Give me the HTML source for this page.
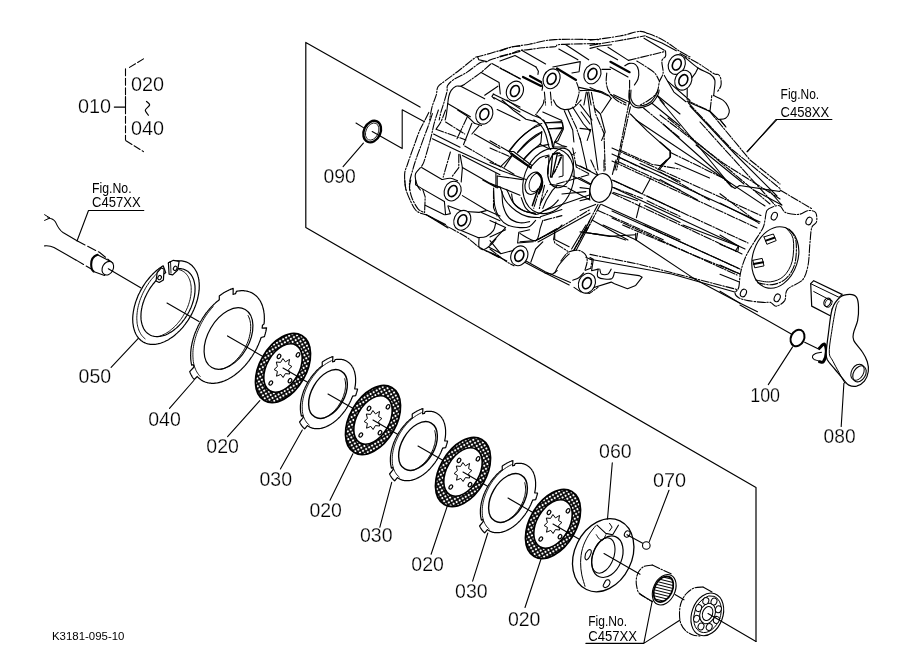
<!DOCTYPE html><html><head><meta charset="utf-8"><style>
html,body{margin:0;padding:0;background:#fff;width:919px;height:667px;overflow:hidden}
svg{display:block;will-change:transform}
text{font-family:"Liberation Sans",sans-serif;fill:#000;stroke:none}
text.n{stroke:#fff;stroke-width:0.25px}
</style></head><body>
<svg width="919" height="667" viewBox="0 0 919 667"><defs>
<pattern id="dots" width="3.5" height="3.5" patternUnits="userSpaceOnUse" patternTransform="rotate(30)">
<rect width="3.5" height="3.5" fill="#000"/><rect x="0.75" y="0.75" width="2" height="2" fill="#fff"/></pattern>
</defs><g fill="none" stroke="#000" stroke-width="1.1" stroke-linejoin="round" stroke-linecap="round"><path d="M420,107.1 L305.8,42.4 L305.8,227.5 L756,487.5 L756,641.4" stroke-width="1.2"/>
<path d="M475.4,57.5 L510.8,47.0 L555.0,39.6 L610.0,37.0 L636.4,32.4 L646.3,32.4 L651.2,34.8 L676.0,50.5 L715.5,74.4 L719.6,79.3 L718.8,89.2 L714.7,94.2 L723.7,100.8 L728.7,109.0 L727.8,117.2 L723.7,122.2 L768.8,204.4 L809.3,208.8 L816.0,220.0 L813.8,289.8 L800.3,307.8 L768.8,307.8 L735.0,301.0 L696.9,294.3 L640.0,287.0 L616.3,282.3 L596.7,286.2 L588.8,294.0 L577.0,292.0 L569.3,284.2 L532.0,265.6 L512.5,264.6 L493.5,244.7 L479.9,238.8 L468.2,233.0 L448.7,223.3 L431.2,217.4 L423.4,213.5 L413.6,203.8 L407.8,190.1 L404.9,176.5 L405.8,164.8 L411.7,151.2 L421.4,120.0 L429.2,114.2 L436.0,98.5 L437.1,91.7 L440.5,83.8 L454.0,73.7 L475.4,57.5" fill="#fff" stroke="none"/>
<path d="M520.0,46.2 C518.5,46.4 516.0,46.0 511.1,47.2 C506.3,48.4 496.3,51.6 490.7,53.2 C485.1,54.8 480.3,56.0 477.6,56.8 C474.9,57.6 477.6,55.8 474.6,58.0 C471.6,60.2 464.5,66.2 459.6,70.0 C454.7,73.8 448.8,78.0 445.2,80.8 C441.6,83.6 439.5,84.4 438.0,86.8 C436.5,89.2 437.2,91.8 436.2,95.2 C435.2,98.6 433.1,103.0 432.0,107.1 C430.9,111.3 430.0,117.8 429.6,120.0" stroke-dasharray="8,1.6,1.5,1.6"/>
<path d="M520.0,51.4 C515.3,52.7 497.4,57.5 491.9,59.2 C486.5,60.9 489.1,61.0 487.1,61.6 C485.1,62.2 483.3,61.0 480.0,62.8 C476.6,64.6 471.2,69.6 466.8,72.4 C462.4,75.2 456.8,77.4 453.6,79.6 C450.4,81.8 448.7,83.6 447.6,85.6 C446.5,87.6 447.6,88.8 447.0,91.6 C446.4,94.4 445.0,99.0 444.0,102.4 C443.0,105.7 441.8,109.0 441.0,111.9 C440.2,114.9 439.5,118.6 439.2,120.0" stroke-dasharray="8,1.6,1.5,1.6"/>
<path d="M477.6,56.8 L478.8,59.8 L487.1,61.6" />
<path d="M490.7,64.0 C489.1,65.4 484.1,70.0 481.2,72.4 C478.2,74.8 475.6,76.4 472.8,78.4 C470.0,80.4 465.8,83.4 464.4,84.4" stroke-dasharray="8,1.6,1.5,1.6"/>
<path d="M464.4,84.6 C463.8,84.9 462.2,85.9 460.8,86.2 C459.4,86.4 457.6,85.5 456.0,86.2 C454.4,86.9 452.4,88.7 451.2,90.4 C450.0,92.1 449.4,94.0 448.8,96.4 C448.2,98.8 448.0,101.8 447.6,104.7 C447.2,107.7 446.8,111.8 446.4,114.3 C446.0,116.9 445.4,119.0 445.2,120.0" />
<path d="M460.8,86.2 L484.7,98.8" />
<path d="M481.2,72.4 L499.1,82.6 L500.3,94.0" />
<path d="M491.9,63.4 L520.0,78.4" stroke-dasharray="8,1.6,1.5,1.6"/>
<path d="M447.6,103.5 L470.4,116.7" />
<path d="M484.7,95.2 L497.9,86.2" />
<path d="M493.1,94.0 L520.0,107.1" />
<path d="M493.7,97.6 L520.0,111.9" />
<path d="M493.7,94.0 L491.9,96.4 L494.3,98.8" />
<path d="M500.0,51.1 C502.0,50.4 507.1,48.0 512.0,46.8 C516.9,45.7 522.3,45.4 529.4,44.2 C536.5,43.0 542.8,40.4 554.6,39.6 C566.3,38.9 592.4,39.6 600.0,39.6" stroke-dasharray="8,1.6,1.5,1.6"/>
<path d="M500.0,56.4 C502.2,55.8 510.2,53.8 513.2,52.8 C516.2,51.9 515.4,51.3 518.0,50.8 C520.6,50.2 524.8,50.1 528.8,49.6 C532.8,49.1 537.6,48.3 542.0,47.8 C546.4,47.3 552.0,47.1 555.2,46.6 C558.4,46.0 553.7,44.9 561.2,44.4 C568.6,43.9 593.5,43.7 600.0,43.6" stroke-dasharray="8,1.6,1.5,1.6"/>
<path d="M500.0,61.0 L515.0,55.6 L536.0,67.0" />
<path d="M521.6,50.2 L545.6,64.0" />
<path d="M558.8,49.0 L577.9,59.8" />
<path d="M565.9,44.8 L588.7,59.8" />
<path d="M536.0,67.0 L538.4,71.2 L537.8,75.4" stroke-dasharray="8,1.6,1.5,1.6"/>
<path d="M552.8,67.0 L580.3,61.6 L579.1,71.8 L571.9,73.0" />
<path d="M500.0,68.2 L520.4,79.0" />
<path d="M540.8,81.4 C541.1,82.2 542.4,84.7 542.6,86.2 C542.8,87.6 542.1,89.6 542.0,90.3" />
<path d="M544.4,92.1 L545.6,105.0" stroke-dasharray="8,1.6,1.5,1.6"/>
<path d="M550.4,92.1 L551.6,105.0" stroke-dasharray="8,1.6,1.5,1.6"/>
<path d="M576.7,82.6 C577.1,84.2 579.3,88.4 579.1,92.1 C578.9,95.9 576.1,102.8 575.5,105.0" stroke-dasharray="8,1.6,1.5,1.6"/>
<path d="M586.3,92.1 L583.9,105.0" />
<path d="M588.7,92.1 L591.1,105.0" />
<path d="M579.1,87.4 L600.0,92.1" />
<path d="M590.0,40.3 C595.0,39.6 612.4,37.4 620.0,36.0 C627.6,34.6 631.8,32.7 635.6,32.0 C639.4,31.2 640.9,31.4 642.8,31.6 C644.7,31.8 646.3,32.9 647.0,33.2" stroke-dasharray="8,1.6,1.5,1.6"/>
<path d="M647.0,33.2 C648.7,33.8 653.6,35.4 657.1,37.0 C660.6,38.6 664.1,40.6 667.9,43.0 C671.7,45.4 676.3,49.1 679.9,51.4 C683.6,53.7 688.3,55.9 690.0,56.8" stroke-dasharray="8,1.6,1.5,1.6"/>
<path d="M590.0,45.4 C592.4,45.0 598.4,44.0 604.4,43.0 C610.4,42.0 619.2,40.6 626.0,39.4 C632.8,38.2 642.0,36.4 645.2,35.8" stroke-dasharray="8,1.6,1.5,1.6"/>
<path d="M646.4,36.4 L661.9,43.0 L676.3,50.8" />
<path d="M590.0,48.4 L599.6,46.0 L611.6,44.8" />
<path d="M597.2,48.4 L617.6,59.8" />
<path d="M608.0,47.2 L628.4,60.4" />
<path d="M644.0,38.2 L664.3,50.2" />
<path d="M628.4,60.4 L665.5,51.4" stroke-dasharray="8,1.6,1.5,1.6"/>
<path d="M665.5,50.8 C665.5,51.7 666.1,54.5 665.5,56.2 C664.9,57.9 662.3,58.2 661.9,61.0 C661.5,63.8 663.5,69.6 663.1,73.0 C662.7,76.4 660.5,78.2 659.5,81.4 C658.5,84.6 658.7,89.1 657.1,92.1 C655.5,95.1 652.7,97.2 650.0,99.3 C647.2,101.5 642.0,104.0 640.4,105.0" stroke-dasharray="8,1.6,1.5,1.6"/>
<path d="M636.8,61.0 C638.4,62.0 643.4,65.0 646.4,67.0 C649.4,69.0 652.5,70.6 654.7,73.0 C656.9,75.4 658.7,80.0 659.5,81.4" stroke-dasharray="8,1.6,1.5,1.6"/>
<path d="M606.8,73.0 C606.7,74.4 606.0,78.6 606.2,81.4 C606.4,84.2 606.9,87.2 608.0,89.7 C609.1,92.3 611.0,94.9 612.8,96.9 C614.6,98.9 616.6,100.4 618.8,101.7 C621.0,103.1 624.8,104.4 626.0,105.0" stroke-dasharray="8,1.6,1.5,1.6"/>
<path d="M624.8,65.8 C625.6,65.4 627.8,63.6 629.6,63.4 C631.4,63.2 634.1,63.4 635.6,64.6 C637.1,65.8 638.2,68.2 638.6,70.6 C639.0,73.0 638.7,76.6 638.0,79.0 C637.3,81.4 635.0,84.0 634.4,85.0" />
<path d="M629.6,80.2 L629.6,105.0" stroke-dasharray="8,1.6,1.5,1.6"/>
<path d="M602.0,69.4 L610.4,69.4" />
<path d="M590.0,87.4 L608.0,95.7" />
<path d="M610.4,94.5 L626.0,102.9" />
<path d="M657.1,95.7 L664.3,104.1" />
<path d="M667.9,81.4 L690.0,100.5" />
<path d="M664.3,75.4 L673.9,92.1 L685.9,101.7" />
<path d="M680.0,53.6 C683.0,55.2 692.4,59.9 698.0,63.2 C703.6,66.5 710.2,71.5 713.6,73.4 C717.0,75.3 717.2,73.7 718.4,74.6 C719.6,75.5 720.4,76.9 720.8,78.8 C721.2,80.7 721.4,83.8 720.8,86.0 C720.2,88.2 717.8,91.0 717.2,92.0" stroke-dasharray="8,1.6,1.5,1.6"/>
<path d="M713.6,95.6 C715.2,96.4 720.8,98.6 723.2,100.4 C725.6,102.2 727.0,104.4 728.0,106.4 C729.0,108.4 729.6,110.4 729.2,112.4 C728.8,114.3 727.4,117.1 725.6,118.3 C723.8,119.5 719.6,119.3 718.4,119.5" />
<path d="M684.8,57.2 C687.0,59.0 693.8,65.2 698.0,68.0 C702.2,70.8 707.2,72.0 710.0,74.0 C712.8,76.0 714.1,77.2 714.8,80.0 C715.5,82.8 714.4,88.2 714.2,90.8 C714.0,93.4 713.7,94.8 713.6,95.6" />
<path d="M698.0,68.0 L695.6,72.8 L692.0,77.6" />
<path d="M687.2,88.4 L687.2,100.4 L710.0,111.2 L711.8,95.6" stroke-dasharray="8,1.6,1.5,1.6"/>
<path d="M710.0,111.2 L718.4,119.5" />
<path d="M719.6,119.5 L725.6,126.7" />
<path d="M428.8,112.4 C428.0,114.0 425.6,118.8 424.0,122.0 C422.4,125.2 420.8,127.8 419.2,131.6 C417.6,135.4 416.0,140.4 414.4,144.8 C412.8,149.2 410.8,154.6 409.6,158.0 C408.4,161.4 408.0,162.8 407.2,165.2 C406.4,167.6 405.2,169.6 404.8,172.4 C404.4,175.1 404.6,179.0 404.8,181.9 C405.0,184.9 405.8,188.6 406.0,190.0" stroke-dasharray="8,1.6,1.5,1.6"/>
<path d="M432.4,113.6 C431.8,115.4 430.0,121.0 428.8,124.4 C427.6,127.8 426.6,130.2 425.2,134.0 C423.8,137.8 422.0,142.8 420.4,147.2 C418.8,151.6 417.0,156.2 415.6,160.4 C414.2,164.6 413.0,168.8 412.0,172.4 C411.0,175.9 410.0,179.0 409.6,181.9 C409.2,184.9 409.6,188.6 409.6,190.0" stroke-dasharray="8,1.6,1.5,1.6"/>
<path d="M438.4,110.0 C438.0,111.2 436.8,114.6 436.0,117.2 C435.2,119.8 434.4,122.4 433.6,125.6 C432.8,128.8 432.2,132.4 431.2,136.4 C430.2,140.4 428.8,145.4 427.6,149.6 C426.4,153.8 425.0,158.8 424.0,161.6 C423.0,164.4 422.0,165.6 421.6,166.4" stroke-dasharray="8,1.6,1.5,1.6"/>
<path d="M445.6,110.0 C444.8,112.0 442.4,118.8 440.8,122.0 C439.2,125.2 436.8,128.0 436.0,129.2" stroke-dasharray="8,1.6,1.5,1.6"/>
<path d="M433.6,134.0 L460.0,147.2" />
<path d="M432.4,138.8 L457.6,150.8 L500.0,170.0" />
<path d="M436.0,129.2 L465.9,140.0" stroke-dasharray="8,1.6,1.5,1.6"/>
<path d="M445.6,122.0 L464.7,134.0" stroke-dasharray="8,1.6,1.5,1.6"/>
<path d="M474.3,134.0 L500.0,148.4" />
<path d="M464.7,146.0 L500.0,166.4" stroke-dasharray="8,1.6,1.5,1.6"/>
<path d="M462.4,155.6 L500.0,174.7" />
<path d="M462.4,167.6 L495.9,186.7" />
<path d="M421.6,167.6 L442.0,179.5" />
<path d="M442.0,179.5 C443.4,179.3 447.8,178.1 450.4,178.3 C453.0,178.5 456.4,180.3 457.6,180.7" />
<path d="M450.4,152.0 L443.2,177.1" stroke-dasharray="8,1.6,1.5,1.6"/>
<path d="M458.8,154.4 L458.8,167.6 L451.6,177.1" stroke-dasharray="8,1.6,1.5,1.6"/>
<path d="M460.0,154.4 L462.4,167.6 L461.2,181.9" />
<path d="M467.1,117.2 L456.4,140.0" stroke-dasharray="8,1.6,1.5,1.6"/>
<path d="M471.9,123.2 L463.5,144.8" />
<path d="M420.4,167.6 C419.6,168.6 416.4,171.6 415.6,173.5 C414.8,175.5 415.2,177.3 415.6,179.5 C416.0,181.7 417.2,185.0 418.0,186.7 C418.8,188.5 420.0,189.4 420.4,190.0" />
<path d="M457.6,110.0 L467.1,116.0 L474.3,123.2" />
<path d="M474.3,123.2 L481.5,125.6" />
<path d="M479.1,125.6 L471.9,134.0" />
<path d="M495.9,173.5 L495.9,186.7" />
<path d="M502.0,100.0 L514.0,110.8 L526.0,119.2 L535.6,121.6" />
<path d="M506.8,100.0 L521.2,109.6 L533.2,115.6 L540.4,118.0" />
<path d="M497.2,109.6 L520.0,120.4" />
<path d="M509.2,151.6 C511.0,149.4 516.2,142.2 520.0,138.4 C523.8,134.6 528.6,131.0 532.0,128.8 C535.4,126.6 539.0,125.8 540.4,125.2" />
<path d="M517.6,152.8 C519.4,151.0 524.4,145.4 528.4,142.0 C532.4,138.6 539.4,134.0 541.6,132.4" />
<path d="M523.6,160.0 C525.6,158.0 531.4,150.6 535.6,148.0 C539.8,145.4 546.6,145.0 548.8,144.4" />
<path d="M535.6,114.4 C537.0,115.6 541.8,118.8 544.0,121.6 C546.2,124.4 547.4,127.8 548.8,131.2 C550.2,134.6 551.6,139.2 552.4,142.0 C553.1,144.8 553.3,147.0 553.5,148.0" />
<path d="M544.0,100.0 C543.8,100.8 544.0,102.6 542.8,104.8 C541.6,107.0 537.8,111.8 536.8,113.2" />
<path d="M553.5,100.0 C554.1,101.0 555.3,104.4 557.1,106.0 C558.9,107.6 561.5,109.4 564.3,109.6 C567.1,109.8 571.1,108.8 573.9,107.2 C576.7,105.6 579.9,101.2 581.1,100.0" />
<path d="M564.3,110.8 L572.7,130.0 L573.9,142.0" />
<path d="M567.9,109.6 L576.3,127.6 L581.1,142.0" stroke-dasharray="8,1.6,1.5,1.6"/>
<path d="M572.7,107.2 L583.5,124.0 L590.0,131.2" />
<path d="M581.1,112.0 L590.0,124.0" />
<path d="M546.4,122.8 L561.9,121.6 L563.1,127.6 L554.7,142.0" />
<path d="M550.0,128.8 L561.9,127.6" />
<path d="M542.8,112.0 L561.9,120.4" />
<path d="M554.7,142.0 L561.9,145.6 L566.7,146.8" />
<path d="M552.4,154.0 L559.5,152.8 L561.9,156.4 L554.7,171.9" stroke-dasharray="8,1.6,1.5,1.6"/>
<path d="M511.6,155.2 L530.8,168.3" />
<path d="M511.6,156.4 L504.4,167.1" />
<path d="M490.0,140.8 L509.2,151.6" stroke-dasharray="8,1.6,1.5,1.6"/>
<path d="M490.0,148.0 L509.2,156.4" stroke-dasharray="8,1.6,1.5,1.6"/>
<path d="M490.0,162.4 L502.0,167.1 L514.0,174.3" />
<path d="M572.7,148.0 L576.3,167.1 L590.0,174.3" stroke-dasharray="8,1.6,1.5,1.6"/>
<path d="M576.3,164.7 L590.0,170.7" />
<path d="M509.2,151.6 L511.6,155.2" />
<path d="M629.2,90.0 C629.2,91.6 628.4,96.8 629.2,99.6 C630.0,102.4 631.8,105.5 634.0,106.8 C636.2,108.1 639.4,108.0 642.4,107.4 C645.3,106.8 649.3,105.3 651.9,103.2 C654.5,101.1 656.7,97.0 657.9,94.8 C659.1,92.6 658.9,90.8 659.1,90.0" />
<path d="M631.0,90.0 C631.0,91.5 630.3,96.5 631.0,99.0 C631.7,101.5 633.3,103.9 635.2,105.0 C637.1,106.1 639.8,106.1 642.4,105.6 C644.9,105.1 648.3,104.0 650.7,102.0 C653.1,100.0 655.6,95.6 656.7,93.6 C657.9,91.6 657.5,90.6 657.7,90.0" />
<path d="M580.0,90.6 C583.0,90.6 593.4,89.9 598.0,90.6 C602.6,91.3 605.4,93.5 607.6,94.8 C609.8,96.1 610.6,97.8 611.2,98.4" />
<path d="M613.6,94.8 L629.2,102.0" />
<path d="M611.2,98.4 L601.6,112.8" />
<path d="M629.2,102.0 L619.6,150.0 L614.8,170.0" stroke-dasharray="8,1.6,1.5,1.6"/>
<path d="M630.4,106.8 L620.8,150.0 L616.6,170.0" stroke-dasharray="8,1.6,1.5,1.6"/>
<path d="M630.4,114.0 L647.1,130.8 L669.9,151.2 L669.9,157.1 L659.1,170.0" />
<path d="M643.5,108.0 L680.0,138.0" stroke-dasharray="8,1.6,1.5,1.6"/>
<path d="M651.9,103.2 L680.0,126.0" />
<path d="M657.9,96.0 L680.0,114.0" />
<path d="M619.6,150.0 L651.9,164.3 L680.0,169.1" stroke-dasharray="8,1.6,1.5,1.6"/>
<path d="M618.4,157.1 L645.9,170.0" stroke-dasharray="8,1.6,1.5,1.6"/>
<path d="M587.2,92.4 L598.0,170.0" />
<path d="M591.4,92.4 L595.6,114.0 L604.0,133.2 L605.2,170.0" stroke-dasharray="8,1.6,1.5,1.6"/>
<path d="M594.4,108.0 L600.4,114.0 L605.2,132.0 L601.6,140.4" />
<path d="M580.0,128.4 L590.8,129.6 L587.2,140.4" />
<path d="M580.0,138.0 L587.2,170.0" />
<path d="M580.0,104.4 L592.0,120.0" />
<path d="M404.8,180.0 C405.0,181.6 405.0,186.0 406.0,189.6 C407.0,193.2 409.2,198.2 410.8,201.6 C412.4,205.0 413.8,208.0 415.6,210.0 C417.4,212.0 419.8,212.8 421.6,213.6 C423.4,214.4 425.6,214.6 426.4,214.8" stroke-dasharray="8,1.6,1.5,1.6"/>
<path d="M426.4,214.8 C430.0,216.8 441.2,223.0 448.0,226.8 C454.8,230.6 462.0,234.2 467.1,237.6 C472.3,241.0 473.7,243.7 479.1,247.1 C484.6,250.5 496.5,256.1 500.0,257.9" stroke-dasharray="8,1.6,1.5,1.6"/>
<path d="M410.8,180.0 C410.6,181.2 409.4,184.2 409.6,187.2 C409.8,190.2 410.6,194.4 412.0,198.0 C413.4,201.6 416.0,206.4 418.0,208.8 C420.0,211.2 423.0,211.8 424.0,212.4" stroke-dasharray="8,1.6,1.5,1.6"/>
<path d="M415.6,180.0 L415.6,184.8 L421.6,188.4 L444.4,201.6" />
<path d="M422.8,189.6 L425.2,196.8 L424.6,212.4" stroke-dasharray="8,1.6,1.5,1.6"/>
<path d="M425.2,205.2 L444.4,214.8" />
<path d="M444.4,201.6 L445.6,214.8 L450.4,213.6 L448.0,206.4" />
<path d="M426.4,214.8 L448.0,228.0" />
<path d="M428.8,216.0 L445.6,224.4" />
<path d="M462.4,195.6 L486.3,210.0 L500.0,216.0" />
<path d="M448.0,205.8 L462.4,211.2 L479.1,212.4 L486.3,210.6" />
<path d="M481.5,212.4 L500.0,220.8" />
<path d="M461.2,230.4 L477.9,237.6" />
<path d="M495.9,222.0 C495.5,223.4 495.1,228.0 493.5,230.4 C491.9,232.8 488.9,235.2 486.3,236.4 C483.7,237.6 479.3,237.4 477.9,237.6" />
<path d="M479.1,237.6 C479.1,239.2 478.3,245.1 479.1,247.1 C479.9,249.1 481.9,249.9 483.9,249.5 C485.9,249.1 489.1,246.5 491.1,244.7 C493.1,242.9 495.1,239.8 495.9,238.8" />
<path d="M493.5,190.8 L493.5,207.6 L497.1,216.0" stroke-dasharray="8,1.6,1.5,1.6"/>
<path d="M482.7,180.0 L495.9,187.2 L500.0,187.2" />
<path d="M488.7,247.1 L500.0,253.1" />
<path d="M486.3,250.7 L500.0,256.7" />
<path d="M493.6,188.0 C493.8,191.0 493.8,201.0 494.8,206.0 C495.8,211.0 497.4,214.8 499.6,218.0 C501.8,221.2 504.6,223.6 508.0,225.2 C511.4,226.8 516.4,227.4 520.0,227.6 C523.6,227.8 527.0,227.6 529.6,226.4 C532.2,225.2 534.6,221.4 535.6,220.4" />
<path d="M502.0,191.6 C502.2,194.0 502.0,201.6 503.2,206.0 C504.4,210.4 506.4,215.2 509.2,218.0 C512.0,220.8 516.6,222.2 520.0,222.8 C523.4,223.4 528.0,221.8 529.6,221.6" />
<path d="M511.6,194.0 C512.0,195.6 512.0,200.8 514.0,203.6 C516.0,206.4 520.0,209.2 523.6,210.8 C527.2,212.4 533.6,212.8 535.6,213.2" />
<path d="M521.2,197.6 C522.0,199.4 523.6,205.6 526.0,208.4 C528.4,211.2 532.6,214.0 535.6,214.4 C538.6,214.8 541.2,212.2 544.0,210.8 C546.8,209.4 550.0,207.8 552.4,206.0 C554.7,204.2 557.3,201.0 558.3,200.0" />
<path d="M542.8,208.4 L546.4,200.0 L552.4,190.4 L557.1,185.6" />
<path d="M540.4,203.6 L547.6,190.4" stroke-dasharray="8,1.6,1.5,1.6"/>
<path d="M540.4,216.8 L561.9,209.6" />
<path d="M544.0,220.4 L561.9,215.6" stroke-dasharray="8,1.6,1.5,1.6"/>
<path d="M490.0,183.2 L520.0,195.2" />
<path d="M497.2,176.0 L497.2,188.0" />
<path d="M497.2,176.0 L522.4,179.6" />
<path d="M499.6,170.0 L526.0,179.6" />
<path d="M520.0,233.5 C522.6,234.7 532.2,241.7 535.6,240.7 C539.0,239.7 539.2,231.0 540.4,227.6 C541.6,224.2 542.4,221.6 542.8,220.4" />
<path d="M535.6,240.7 L561.9,226.4 L590.0,209.6" stroke-dasharray="8,1.6,1.5,1.6"/>
<path d="M538.0,241.9 L564.3,227.6 L590.0,213.2" />
<path d="M554.7,230.0 L554.7,239.5 L569.1,246.7" />
<path d="M573.9,250.0 L590.0,220.4" stroke-dasharray="8,1.6,1.5,1.6"/>
<path d="M576.3,250.0 L590.0,224.0" />
<path d="M567.9,188.0 L590.0,200.0" />
<path d="M561.9,194.0 L585.9,191.6" />
<path d="M490.0,220.4 L505.6,227.6 L490.0,244.3" />
<path d="M572.7,176.0 L590.0,184.4" />
<path d="M550.0,184.4 L566.7,186.8" />
<path d="M618.4,161.8 L680.0,190.0" stroke-dasharray="8,1.6,1.5,1.6"/>
<path d="M640.0,163.6 L680.0,181.6" />
<path d="M613.6,180.4 L640.0,192.4" />
<path d="M613.6,187.6 L642.4,198.4" stroke-dasharray="8,1.6,1.5,1.6"/>
<path d="M613.6,192.4 L637.6,200.8" />
<path d="M647.1,196.0 L680.0,211.6" />
<path d="M647.1,200.8 L680.0,216.4" stroke-dasharray="8,1.6,1.5,1.6"/>
<path d="M644.7,205.6 L680.0,222.4" />
<path d="M601.6,204.4 L680.0,240.0" />
<path d="M598.0,210.4 L663.9,240.0" stroke-dasharray="8,1.6,1.5,1.6"/>
<path d="M592.0,220.0 L628.0,240.0" />
<path d="M657.9,169.6 L666.3,160.0" />
<path d="M650.7,178.0 L642.4,193.6" />
<path d="M640.0,203.2 L636.4,217.6" />
<path d="M637.6,233.1 L636.4,240.0" />
<path d="M580.0,166.0 L598.0,175.6" />
<path d="M580.0,178.0 L590.8,184.0 L598.0,175.6" />
<path d="M580.0,187.6 L589.6,188.8 L589.6,198.4 L580.0,200.8" />
<path d="M580.0,210.4 L595.6,204.4" />
<path d="M598.0,204.4 L583.6,231.9" stroke-dasharray="8,1.6,1.5,1.6"/>
<path d="M600.4,204.4 L586.0,231.9" stroke-dasharray="8,1.6,1.5,1.6"/>
<path d="M580.0,231.9 L616.0,236.7 L625.6,240.0" />
<path d="M590.8,160.0 L598.0,175.6" stroke-dasharray="8,1.6,1.5,1.6"/>
<path d="M604.0,160.0 L604.0,172.0" stroke-dasharray="8,1.6,1.5,1.6"/>
<path d="M616.0,160.0 L612.4,174.4" />
<path d="M687.0,101.5 L709.5,111.2" />
<path d="M688.5,103.0 L732.0,149.5 L780.0,188.5" stroke-dasharray="8,1.6,1.5,1.6"/>
<path d="M690.0,106.0 L735.0,154.0 L777.0,196.0" />
<path d="M709.5,111.2 L750.0,160.0 L780.0,184.0" stroke-dasharray="8,1.6,1.5,1.6"/>
<path d="M660.0,100.0 L697.5,145.0 L730.5,185.5 L735.0,188.5 L739.5,185.5 L780.0,191.5" />
<path d="M660.0,115.0 L723.0,163.0 L780.0,199.0" stroke-dasharray="8,1.6,1.5,1.6"/>
<path d="M663.0,124.0 L730.5,184.0" />
<path d="M660.0,142.0 L670.5,151.0 L670.5,157.0 L660.0,166.0" />
<path d="M670.5,152.5 L723.0,178.0 L732.0,187.0" stroke-dasharray="8,1.6,1.5,1.6"/>
<path d="M675.0,163.0 L709.5,178.0" />
<path d="M660.0,172.0 L709.5,200.0" stroke-dasharray="8,1.6,1.5,1.6"/>
<path d="M660.0,179.5 L697.5,200.0" />
<path d="M747.0,151.7 L777.0,119.5 L780.0,119.5" />
<path d="M696.0,145.0 L744.0,184.0" />
<path d="M720.0,119.5 L726.0,127.0" stroke-dasharray="8,1.6,1.5,1.6"/>
<path d="M720.0,193.7 L759.4,223.7" stroke-dasharray="8,1.6,1.5,1.6"/>
<path d="M720.0,203.1 L757.5,221.9" />
<path d="M720.0,235.0 L738.7,246.2 L737.8,251.8 L720.0,244.3" />
<path d="M720.0,265.0 L740.6,274.3" />
<path d="M720.0,274.3 L738.7,281.8" />
<path d="M720.0,291.2 L738.7,302.4 L757.5,311.8" />
<path d="M753.7,190.0 L781.8,205.0" />
<path d="M768.7,190.0 L781.8,205.0" />
<path d="M780.0,190.0 L811.8,208.7" stroke-dasharray="8,1.6,1.5,1.6"/>
<path d="M490.0,249.0 C492.6,251.0 501.6,258.2 505.6,261.0 C509.6,263.8 512.6,265.0 514.0,265.8" stroke-dasharray="8,1.6,1.5,1.6"/>
<path d="M524.8,262.2 L545.2,273.0 L569.2,285.0" />
<path d="M526.0,261.0 L545.2,271.8 L570.4,282.6" />
<path d="M545.2,273.0 L552.4,274.2 L557.2,270.6" />
<path d="M490.0,240.6 L500.8,253.8 L514.0,250.2" />
<path d="M490.0,252.6 L506.8,261.0" />
<path d="M560.8,261.0 C562.0,259.6 565.2,254.4 568.0,252.6 C570.8,250.8 574.8,250.0 577.6,250.2 C580.4,250.4 583.2,252.0 584.8,253.8 C586.4,255.6 587.2,258.2 587.2,261.0 C587.2,263.8 585.2,269.0 584.8,270.6" stroke-dasharray="8,1.6,1.5,1.6"/>
<path d="M554.8,273.0 C555.4,271.8 557.0,268.0 558.4,265.8 C559.8,263.6 561.4,261.8 563.2,259.8 C565.0,257.8 568.2,254.8 569.2,253.8" />
<path d="M586.0,257.4 L592.0,259.8 L590.8,268.2 L584.8,270.6" stroke-dasharray="8,1.6,1.5,1.6"/>
<path d="M572.8,280.2 C573.8,279.8 577.0,279.0 578.8,277.8 C580.6,276.6 582.8,273.8 583.6,273.0" />
<path d="M535.6,240.6 L557.2,229.8 L562.0,225.0" />
<path d="M538.0,239.4 L557.2,228.6" />
<path d="M554.8,232.2 L553.6,239.4 L554.8,243.0 L568.0,251.4" stroke-dasharray="8,1.6,1.5,1.6"/>
<path d="M533.2,241.8 L517.6,243.0 L518.8,232.2 L529.6,229.8" />
<path d="M490.0,237.0 L505.6,229.8" />
<path d="M571.6,249.0 L586.0,225.0" />
<path d="M574.0,250.2 L587.2,227.4" />
<path d="M583.6,232.2 L600.0,234.6" />
<path d="M530.8,262.2 L535.6,249.0 L542.8,241.8" />
<path d="M520.0,241.8 L535.6,240.6" />
<path d="M574.0,287.4 L581.2,292.2 L589.6,293.4 L598.0,287.4" stroke-dasharray="8,1.6,1.5,1.6"/>
<path d="M603.1,225.0 L635.7,239.7 L694.5,278.9 L740.0,303.3" />
<path d="M622.6,225.0 L687.9,252.7 L740.0,274.0" stroke-dasharray="8,1.6,1.5,1.6"/>
<path d="M643.9,225.0 L740.0,269.1" stroke-dasharray="8,1.6,1.5,1.6"/>
<path d="M683.0,225.0 L738.5,246.2 L735.3,251.1" />
<path d="M590.0,254.4 L639.0,264.2 L740.0,290.3" stroke-dasharray="8,1.6,1.5,1.6"/>
<path d="M590.0,259.3 L671.6,274.0 L740.0,293.5" />
<path d="M590.0,233.2 L609.6,236.4 L635.7,234.8" />
<path d="M635.7,233.2 L635.7,239.7" />
<path d="M598.2,269.1 C598.2,270.4 596.0,275.6 598.2,277.2 C600.3,278.9 608.5,279.7 611.2,278.9 C613.9,278.0 613.9,273.4 614.5,272.3" />
<path d="M614.5,272.3 L639.0,275.6 L642.2,277.2 L635.7,285.4 L627.5,288.7 L614.5,283.8 L611.2,282.1 L590.0,288.7" />
<path d="M590.0,257.6 L593.3,259.3 L591.6,270.7 L598.2,269.1" />
<path d="M599.8,269.1 C600.1,269.9 600.1,273.1 601.4,274.0 C602.8,274.8 606.3,274.8 608.0,274.0 C609.6,273.1 610.7,269.9 611.2,269.1" />
<path d="M612.0,148.0 L762.0,216.0" stroke-dasharray="8,1.6,1.5,1.6"/>
<path d="M612.0,154.0 L760.0,222.0" />
<path d="M612.0,161.0 L757.0,228.0" stroke-dasharray="8,1.6,1.5,1.6"/>
<path d="M612.0,180.0 L748.0,243.0" stroke-dasharray="8,1.6,1.5,1.6"/>
<path d="M612.0,187.0 L745.0,249.0" />
<path d="M612.0,193.0 L742.0,254.0" stroke-dasharray="8,1.6,1.5,1.6"/>
<path d="M612.0,211.0 L738.0,268.0" />
<path d="M612.0,218.0 L737.0,275.0" stroke-dasharray="8,1.6,1.5,1.6"/>
<path d="M636.0,120.0 L765.0,206.0" />
<path d="M668.0,118.0 L770.0,204.0" stroke-dasharray="8,1.6,1.5,1.6"/>
<path d="M700.0,122.0 L775.0,205.0" stroke-dasharray="8,1.6,1.5,1.6"/>
<ellipse cx="514.9" cy="91.0" rx="8.2" ry="10.2" transform="rotate(25 514.9 91.0)" fill="#fff" stroke-width="1.1"/><ellipse cx="514.9" cy="91.0" rx="4.2" ry="5.8" transform="rotate(25 514.9 91.0)" stroke-width="1.6"/>
<ellipse cx="551.6" cy="78.8" rx="8.2" ry="10.2" transform="rotate(25 551.6 78.8)" fill="#fff" stroke-width="1.1"/><ellipse cx="551.6" cy="78.8" rx="4.2" ry="5.8" transform="rotate(25 551.6 78.8)" stroke-width="1.6"/>
<ellipse cx="592.4" cy="73.9" rx="8.2" ry="10.2" transform="rotate(25 592.4 73.9)" fill="#fff" stroke-width="1.1"/><ellipse cx="592.4" cy="73.9" rx="4.2" ry="5.8" transform="rotate(25 592.4 73.9)" stroke-width="1.6"/>
<ellipse cx="484.3" cy="114.2" rx="8.2" ry="10.2" transform="rotate(25 484.3 114.2)" fill="#fff" stroke-width="1.1"/><ellipse cx="484.3" cy="114.2" rx="4.2" ry="5.8" transform="rotate(25 484.3 114.2)" stroke-width="1.6"/>
<ellipse cx="676.8" cy="64.5" rx="8.2" ry="10.2" transform="rotate(25 676.8 64.5)" fill="#fff" stroke-width="1.1"/><ellipse cx="676.8" cy="64.5" rx="4.2" ry="5.8" transform="rotate(25 676.8 64.5)" stroke-width="1.6"/>
<ellipse cx="683.3" cy="80.2" rx="8.2" ry="10.2" transform="rotate(25 683.3 80.2)" fill="#fff" stroke-width="1.1"/><ellipse cx="683.3" cy="80.2" rx="4.2" ry="5.8" transform="rotate(25 683.3 80.2)" stroke-width="1.6"/>
<ellipse cx="452.6" cy="191.1" rx="8.2" ry="10.2" transform="rotate(25 452.6 191.1)" fill="#fff" stroke-width="1.1"/><ellipse cx="452.6" cy="191.1" rx="4.2" ry="5.8" transform="rotate(25 452.6 191.1)" stroke-width="1.6"/>
<ellipse cx="462.3" cy="220.3" rx="8.2" ry="10.2" transform="rotate(25 462.3 220.3)" fill="#fff" stroke-width="1.1"/><ellipse cx="462.3" cy="220.3" rx="4.2" ry="5.8" transform="rotate(25 462.3 220.3)" stroke-width="1.6"/>
<ellipse cx="519.3" cy="255.8" rx="8.2" ry="10.2" transform="rotate(25 519.3 255.8)" fill="#fff" stroke-width="1.1"/><ellipse cx="519.3" cy="255.8" rx="4.2" ry="5.8" transform="rotate(25 519.3 255.8)" stroke-width="1.6"/>
<ellipse cx="586.9" cy="283.2" rx="8.2" ry="10.2" transform="rotate(25 586.9 283.2)" fill="#fff" stroke-width="1.1"/><ellipse cx="586.9" cy="283.2" rx="4.2" ry="5.8" transform="rotate(25 586.9 283.2)" stroke-width="1.6"/>
<path d="M508.5,151.5 C510.0,149.7 514.5,143.9 517.5,140.7 C520.5,137.6 523.4,135.2 526.5,132.6 C529.7,130.1 533.9,126.9 536.4,125.4 C539.0,123.9 540.9,123.9 541.8,123.6" stroke-width="1.1"/>
<path d="M517.5,152.4 C519.0,150.8 523.5,145.4 526.5,142.5 C529.5,139.7 533.0,137.1 535.5,135.3 C538.1,133.5 540.8,132.3 541.8,131.7" stroke-width="1.1"/>
<path d="M523.8,158.7 C525.0,157.5 528.3,153.9 531.0,151.5 C533.7,149.1 538.5,145.5 540.0,144.3" stroke-width="1.1"/>
<path d="M540.0,144.3 L549.0,148.8" stroke-width="1.1"/>
<path d="M531.0,166.8 C532.5,165.3 537.0,159.8 540.0,157.8 C543.0,155.9 547.5,155.6 549.0,155.1" stroke-width="1.1"/>
<path d="M511.2,153.3 L531.0,167.7" stroke-width="1.8"/>
<path d="M513.5,151.5 L531.9,165.5" stroke-width="1.1"/>
<path d="M541.8,131.7 L540.9,142.5 L540.0,144.3" stroke-width="1.1"/>
<path d="M533.7,120.0 C534.9,120.9 539.0,123.2 540.9,125.4 C542.9,127.7 544.1,129.9 545.4,133.5 C546.8,137.1 548.1,144.3 549.0,147.0 C549.9,149.7 550.5,149.3 550.8,149.7" stroke-width="1.1"/>
<path d="M543.6,120.0 C544.2,121.2 546.0,124.2 547.2,127.2 C548.4,130.2 549.9,134.7 550.8,138.0 C551.7,141.3 552.3,145.5 552.6,147.0" stroke-width="1.1"/>
<path d="M545.4,122.7 L562.5,122.7 L563.4,129.0 L558.0,140.7 L554.4,142.5 L553.5,147.0 L565.2,147.0" stroke-width="1.1"/>
<path d="M549.0,128.6 L562.5,128.6" stroke-width="1.1"/>
<path d="M552.6,154.2 L558.0,153.3 L561.6,154.2 L558.0,165.0 L553.5,174.0" stroke-width="1.1" stroke-dasharray="8,1.6,1.5,1.6"/>
<path d="M545.4,157.8 L549.0,156.0 L548.1,174.0" stroke-width="1.1"/>
<path d="M500.4,166.8 L511.2,156.0" stroke-width="1.1"/>
<path d="M508.5,151.5 L513.0,151.5" stroke-width="1.1"/>
<ellipse cx="533.2" cy="183.3" rx="7.6" ry="11.6" transform="rotate(22 533.2 183.3)" fill="#fff" stroke-width="1.1"/>
<path d="M537.0,172.5 C537.8,173.4 540.7,175.8 541.5,178.0 C542.3,180.2 542.4,183.4 542.0,186.0 C541.6,188.6 539.5,192.2 539.0,193.5" stroke-width="2"/>
<ellipse cx="535.5" cy="182.5" rx="5.8" ry="9.6" transform="rotate(22 535.5 182.5)" stroke-width="0.9"/>
<ellipse cx="560.5" cy="168.0" rx="12.5" ry="20" transform="rotate(12 560.5 168.0)" stroke-width="1.2"/>
<ellipse cx="548.4" cy="181.0" rx="24.5" ry="33.5" transform="rotate(20 548.4 181.0)" stroke-width="1.1"/>
<path d="M552.6,154.3 L557.5,153.0 L552.0,177.0 L550.5,177.0 L552.6,154.3" stroke-width="1.3"/>
<path d="M558.0,156.0 L563.0,155.0 L563.0,176.0 L559.0,177.0" stroke-width="1"/>
<path d="M540.5,186.7 L533.7,208.3" stroke-dasharray="8,1.6,1.5,1.6"/>
<path d="M544.5,185.3 L539.1,209.6" stroke-dasharray="8,1.6,1.5,1.6"/>
<path d="M537.8,189.4 L532.4,205.6" stroke-width="1.6"/>
<path d="M500.0,186.7 C500.9,188.9 502.7,196.1 505.4,200.2 C508.1,204.2 512.6,208.3 516.2,211.0 C519.8,213.7 522.9,215.2 527.0,216.4 C531.0,217.5 538.2,217.5 540.5,217.7" />
<path d="M506.7,189.4 C507.9,191.6 510.6,199.3 513.5,202.9 C516.4,206.5 520.7,209.2 524.3,211.0 C527.9,212.8 533.3,213.2 535.1,213.7" />
<path d="M543.2,211.0 L590.0,194.8" />
<path d="M556.7,184.0 L590.0,174.5" stroke-dasharray="8,1.6,1.5,1.6"/>
<path d="M571.9,154.8 L575.6,152.7" stroke-width="0.9"/>
<ellipse cx="601.0" cy="187.9" rx="10.7" ry="14.6" transform="rotate(15 601.0 187.9)" fill="#fff" stroke-width="1.2"/>
<path d="M766.9,210.6 C768.1,208.4 770.3,207.6 772.5,206.9 C774.7,206.1 777.8,205.0 780.0,205.9 C782.2,206.9 782.5,211.1 785.6,212.5 C788.7,213.9 795.0,214.7 798.7,214.4 C802.5,214.1 805.3,210.9 808.1,210.6 C810.9,210.3 814.2,210.6 815.6,212.5 C817.0,214.4 817.1,219.4 816.5,221.9 C815.9,224.4 812.9,224.0 811.8,227.5 C810.7,230.9 810.6,236.2 810.0,242.5 C809.3,248.7 809.3,258.7 808.1,265.0 C806.8,271.2 805.9,275.9 802.5,280.0 C799.0,284.0 790.4,285.9 787.5,289.3 C784.5,292.8 786.5,297.8 784.7,300.6 C782.8,303.4 778.6,305.9 776.2,306.2 C773.9,306.5 772.8,303.1 770.6,302.4 C768.4,301.8 766.9,302.8 763.1,302.4 C759.4,302.1 752.2,301.4 748.1,300.6 C744.1,299.8 740.9,299.0 738.7,297.8 C736.6,296.5 735.0,294.8 735.0,293.1 C735.0,291.4 737.8,290.9 738.7,287.5 C739.7,284.0 739.4,277.8 740.6,272.5 C741.9,267.1 743.4,261.5 746.2,255.6 C749.0,249.7 754.7,241.5 757.5,236.9 C760.3,232.2 761.9,230.3 763.1,227.5 C764.4,224.7 764.4,222.8 765.0,220.0 C765.6,217.2 765.6,212.8 766.9,210.6 Z" fill="#fff" stroke-dasharray="8,1.6,1.5,1.6"/>
<ellipse cx="774.3" cy="216.2" rx="2.8" ry="4.0" transform="rotate(25 774.3 216.2)" stroke-width="1.1"/>
<ellipse cx="809.0" cy="221.0" rx="2.8" ry="4.0" transform="rotate(25 809.0 221.0)" stroke-width="1.1"/>
<ellipse cx="743.4" cy="293.0" rx="2.8" ry="4.0" transform="rotate(25 743.4 293.0)" stroke-width="1.1"/>
<ellipse cx="777.2" cy="297.8" rx="2.8" ry="4.0" transform="rotate(25 777.2 297.8)" stroke-width="1.1"/>
<ellipse cx="775.3" cy="257.5" rx="22.5" ry="31.5" transform="rotate(18 775.3 257.5)" stroke-width="1.1"/>
<path d="M785.6,227.5 C786.8,229.4 792.0,233.1 793.1,238.7 C794.2,244.3 793.7,255.0 792.2,261.2 C790.6,267.5 787.3,272.8 783.7,276.2 C780.1,279.6 775.3,281.2 770.6,281.8 C765.9,282.5 758.1,280.3 755.6,280.0" stroke-width="1"/>
<path d="M789.3,229.4 C790.4,231.2 795.0,235.0 795.9,240.6 C796.8,246.2 796.5,256.8 795.0,263.1 C793.4,269.3 790.3,274.5 786.5,278.1 C782.8,281.7 777.3,283.9 772.5,284.6 C767.6,285.4 760.0,283.1 757.5,282.8" stroke-dasharray="8,1.6,1.5,1.6"/>
<path d="M764.0,236.9 L773.4,234.0 L776.2,240.6 L766.9,244.3 L764.0,236.9" stroke-width="1"/>
<path d="M752.8,260.3 L762.2,258.4 L764.0,265.9 L754.7,267.8 L752.8,260.3" stroke-width="1"/>
<path d="M765.9,240.6 L774.3,237.8" stroke-width="2"/>
<path d="M753.7,264.0 L763.1,262.2" stroke-width="2"/>
<path d="M610.4,61.8 L629.6,72.2" stroke-width="2.2"/>
<path d="M523.0,77.0 L541.0,86.0" stroke-width="2.2"/>
<path d="M530.0,76.0 L541.0,82.0" stroke-width="2.2"/>
<path d="M557.0,68.5 L576.0,80.0" stroke-width="2.2"/>
<path d="M610.0,67.0 L628.0,77.0" stroke-width="1.1"/>
<text class="n" x="77.9" y="112.5" stroke="none" fill="#000" font-family="Liberation Sans, sans-serif" font-size="20" textLength="33.1" lengthAdjust="spacingAndGlyphs">010</text>
<text class="n" x="130.9" y="90.8" stroke="none" fill="#000" font-family="Liberation Sans, sans-serif" font-size="20" textLength="33.1" lengthAdjust="spacingAndGlyphs">020</text>
<text class="n" x="130.9" y="135.4" stroke="none" fill="#000" font-family="Liberation Sans, sans-serif" font-size="20" textLength="33.1" lengthAdjust="spacingAndGlyphs">040</text>
<path d="M114.3,107.1 L125.5,107.1 L125.5,96.5" stroke-width="1.1"/>
<path d="M125.5,68.8 L125.5,140 M129.5,67.4 L143.5,58.9 M126,140.8 L143.5,151.6" stroke-width="1.1" stroke-dasharray="7,2.5"/>
<path d="M146.5,101.4 C148,102.5 150,103.8 149.6,105 C149,107 145.5,108.5 145.3,110.3 C145.3,112 147.5,113.5 148.4,115.2" stroke-width="1.2"/>
<text x="92" y="193.4" font-family="Liberation Sans, sans-serif" font-size="14.5" textLength="39.6" lengthAdjust="spacingAndGlyphs">Fig.No.</text>
<text x="92" y="207" font-family="Liberation Sans, sans-serif" font-size="14" textLength="48.6" lengthAdjust="spacingAndGlyphs">C457XX</text>
<path d="M143.8,210.5 L88.5,210.5 L77.1,240.8" stroke-width="1.1"/>
<path d="M44.6,214.7 L50,218 L44.6,220.4" stroke-width="1"/>
<path d="M47.7,217.8 C52,218.5 54,219.5 55.5,222 C57.3,226 59,230 63,232.5 L77,240.8" stroke-width="1.1"/>
<path d="M77,240.8 L99.4,252.3 L112.8,263.1" stroke-width="1.1" stroke-dasharray="9,3"/>
<path d="M44.6,245.9 C48,245.6 51,246 54,247.5 L75.8,259.9" stroke-width="1.1"/>
<path d="M75.8,259.9 L93,270" stroke-width="1.1" stroke-dasharray="9,3"/>
<path d="M97.5,254.8 L110.2,261.2 L113,268 L104.5,275.5 L93.5,271.4 C90,268 90.5,259 97.5,254.8 Z" fill="#fff" stroke="none"/>
<path d="M97.5,254.8 C93.5,256 91,260 91.2,265 C91.3,268.5 92.2,270.5 93.5,271.4" stroke-width="2.1"/>
<path d="M97.5,254.8 L110.2,261.2 M93.5,271.4 L104.5,275.5" stroke-width="1.1"/>
<ellipse cx="107.8" cy="268.2" rx="5.4" ry="7.2" transform="rotate(28 107.8 268.2)" fill="#fff" stroke-width="1.1"/>
<line x1="108.3" y1="268.8" x2="140.7" y2="287.8" />
<path d="M168.4,263.2 L169.7,262.7 L170.9,262.2 L172.2,261.8 L173.4,261.5 L174.7,261.2 L175.9,261.0 L177.1,260.9 L178.3,260.8 L179.5,260.8 L180.6,260.8 L181.8,260.9 L182.9,261.1 L184.0,261.3 L185.0,261.6 L186.0,261.9 L187.0,262.3 L188.0,262.8 L189.0,263.3 L189.9,263.9 L190.7,264.5 L191.6,265.2 L192.4,266.0 L193.1,266.8 L193.8,267.6 L194.5,268.5 L195.1,269.5 L195.7,270.5 L196.3,271.5 L196.8,272.6 L197.3,273.8 L197.7,274.9 L198.0,276.2 L198.4,277.4 L198.6,278.7 L198.9,280.0 L199.0,281.4 L199.2,282.8 L199.2,284.2 L199.3,285.7 L199.2,287.2 L199.2,288.7 L199.1,290.2 L198.9,291.7 L198.7,293.3 L198.4,294.8 L198.1,296.4 L197.8,298.0 L197.4,299.6 L196.9,301.2 L196.4,302.8 L195.9,304.4 L195.3,306.0 L194.7,307.6 L194.0,309.2 L193.3,310.7 L192.6,312.3 L191.8,313.9 L191.0,315.4 L190.1,316.9 L189.2,318.4 L188.3,319.9 L187.3,321.3 L186.3,322.7 L185.3,324.1 L184.2,325.5 L183.2,326.8 L182.1,328.1 L180.9,329.3 L179.8,330.6 L178.6,331.7 L177.4,332.9 L176.2,333.9 L175.0,335.0 L173.8,336.0 L172.5,336.9 L171.3,337.8 L170.0,338.6 L168.8,339.4 L167.5,340.2 L166.2,340.8 L164.9,341.5 L163.7,342.0 L162.4,342.5 L161.1,343.0 L159.9,343.4 L158.6,343.7 L157.4,344.0 L156.2,344.2 L155.0,344.3 L153.8,344.4 L152.6,344.4 L151.4,344.4 L150.3,344.3 L149.2,344.1 L148.1,343.9 L147.0,343.6 L146.0,343.3 L145.0,342.9 L144.0,342.4 L143.1,341.9 L142.2,341.3 L141.3,340.7 L140.5,340.0 L139.7,339.3 L138.9,338.5 L138.2,337.6 L137.5,336.7 L136.9,335.8 L136.3,334.8 L135.7,333.7 L135.2,332.6 L134.8,331.5 L134.4,330.3 L134.0,329.1 L133.7,327.9 L133.4,326.6 L133.2,325.2 L133.0,323.9 L132.8,322.5 L132.8,321.0 L132.7,319.6 L132.7,318.1 L132.8,316.6 L132.9,315.1 L133.1,313.6 L133.3,312.0 L133.6,310.4 L133.9,308.9 L134.2,307.3 L134.6,305.7 L135.1,304.1 L135.5,302.5 L136.1,300.9 L136.7,299.3 L137.3,297.7 L137.9,296.1 L138.6,294.5 L139.4,293.0 L140.2,291.4 L141.0,289.9 L141.9,288.4 L142.7,286.9 L143.7,285.4 L144.6,284.0 L145.6,282.5 L146.6,281.1 L147.7,279.8 L148.8,278.5 L149.9,277.2 L151.0,275.9 L152.2,274.7 L153.3,273.5 L154.5,272.4 L155.7,271.3 L156.9,270.3 L158.2,269.3 L159.4,268.3 L160.7,267.4 L161.9,266.6 L163.2,265.8 L165.7,272.7 L164.7,273.3 L163.7,274.0 L162.6,274.7 L161.6,275.5 L160.6,276.3 L159.6,277.2 L158.7,278.0 L157.7,279.0 L156.7,279.9 L155.8,280.9 L154.9,281.9 L154.0,283.0 L153.1,284.0 L152.3,285.2 L151.4,286.3 L150.6,287.4 L149.8,288.6 L149.1,289.8 L148.4,291.0 L147.7,292.3 L147.0,293.5 L146.4,294.8 L145.8,296.0 L145.2,297.3 L144.6,298.6 L144.1,299.9 L143.7,301.2 L143.2,302.5 L142.8,303.8 L142.5,305.1 L142.1,306.4 L141.9,307.7 L141.6,309.0 L141.4,310.3 L141.2,311.5 L141.1,312.8 L141.0,314.0 L141.0,315.2 L140.9,316.4 L141.0,317.6 L141.0,318.8 L141.1,319.9 L141.3,321.0 L141.5,322.1 L141.7,323.1 L142.0,324.2 L142.3,325.1 L142.6,326.1 L143.0,327.0 L143.4,327.9 L143.8,328.8 L144.3,329.6 L144.8,330.4 L145.4,331.1 L146.0,331.8 L146.6,332.4 L147.2,333.0 L147.9,333.6 L148.6,334.1 L149.4,334.6 L150.1,335.0 L150.9,335.4 L151.7,335.7 L152.6,336.0 L153.4,336.2 L154.3,336.4 L155.2,336.5 L156.2,336.6 L157.1,336.6 L158.0,336.6 L159.0,336.5 L160.0,336.4 L161.0,336.2 L162.0,336.0 L163.0,335.7 L164.0,335.4 L165.1,335.1 L166.1,334.7 L167.1,334.2 L168.2,333.7 L169.2,333.1 L170.2,332.5 L171.3,331.9 L172.3,331.2 L173.3,330.5 L174.3,329.7 L175.3,328.9 L176.3,328.1 L177.3,327.2 L178.3,326.3 L179.2,325.3 L180.1,324.3 L181.1,323.3 L182.0,322.3 L182.8,321.2 L183.7,320.1 L184.5,319.0 L185.3,317.8 L186.1,316.6 L186.9,315.5 L187.6,314.2 L188.3,313.0 L189.0,311.8 L189.6,310.5 L190.2,309.2 L190.8,307.9 L191.3,306.7 L191.8,305.4 L192.3,304.1 L192.7,302.8 L193.1,301.5 L193.5,300.2 L193.8,298.9 L194.1,297.6 L194.4,296.3 L194.6,295.0 L194.8,293.7 L194.9,292.5 L195.0,291.3 L195.0,290.0 L195.1,288.8 L195.0,287.7 L195.0,286.5 L194.9,285.4 L194.7,284.3 L194.5,283.2 L194.3,282.1 L194.0,281.1 L193.8,280.1 L193.4,279.1 L193.0,278.2 L192.6,277.3 L192.2,276.5 L191.7,275.7 L191.2,274.9 L190.6,274.2 L190.1,273.5 L189.4,272.8 L188.8,272.2 L188.1,271.6 L187.4,271.1 L186.7,270.7 L185.9,270.2 L185.1,269.9 L184.3,269.5 L183.5,269.2 L182.6,269.0 L181.7,268.8 L180.8,268.7 L179.9,268.6 L179.0,268.6 L178.0,268.6 L177.0,268.7 L176.0,268.8 L175.1,269.0 L174.0,269.2 L173.0,269.4 L172.0,269.8 L171.0,270.1 L170.0,270.5 Z" fill="#fff" stroke-width="1.2"/>
<path d="M145.1,338.8 L144.2,338.1 L143.4,337.3 L142.6,336.4 L141.8,335.5 L141.1,334.5 L140.5,333.5 L139.9,332.4 L139.3,331.2 L138.8,330.0 L138.4,328.7 L138.0,327.4 L137.6,326.1 L137.4,324.7 L137.1,323.3 L137.0,321.8 L136.9,320.3 L136.8,318.8 L136.8,317.2 L136.9,315.6 L137.0,314.0 L137.2,312.4 L137.4,310.7 L137.7,309.0 L138.0,307.3 L138.4,305.6 L138.9,303.9 L139.4,302.2 L139.9,300.5 L140.5,298.8 L141.2,297.1 L141.9,295.4 L142.6,293.8 L143.4,292.1 L144.3,290.5 L145.2,288.8 L146.1,287.2 L147.1,285.6 L148.1,284.1 L149.1,282.6 L150.2,281.1 L151.3,279.6 L152.5,278.2 L153.7,276.9 L154.9,275.5 L156.1,274.2 L157.4,273.0 L158.6,271.8 L159.9,270.7 L161.2,269.6 L162.5,268.6" stroke-width="0.9"/>
<path d="M179.0,269.6 L180.0,269.9 L181.0,270.2 L182.0,270.7 L182.9,271.2 L183.8,271.8 L184.7,272.4 L185.5,273.1 L186.2,273.9 L186.9,274.8 L187.6,275.7 L188.2,276.6 L188.7,277.7 L189.2,278.7 L189.7,279.9 L190.1,281.0 L190.4,282.3 L190.7,283.6 L190.9,284.9 L191.1,286.2 L191.2,287.6 L191.2,289.0 L191.2,290.5 L191.2,292.0 L191.0,293.5 L190.9,295.0 L190.6,296.6 L190.3,298.1 L190.0,299.7 L189.5,301.3 L189.1,302.8 L188.6,304.4 L188.0,306.0 L187.4,307.6 L186.7,309.1 L186.0,310.7 L185.2,312.2 L184.4,313.7 L183.5,315.2 L182.6,316.7 L181.7,318.1 L180.7,319.5 L179.7,320.9 L178.6,322.2 L177.5,323.5 L176.4,324.8 L175.3,326.0 L174.1,327.1 L172.9,328.2 L171.7,329.2 L170.5,330.2 L169.3,331.2 L168.1,332.0 L166.8,332.8 L165.5,333.6 L164.3,334.2 L163.0,334.8 L161.8,335.4 L160.5,335.8 L159.3,336.2 L158.0,336.5" stroke-width="0.9"/>
<path d="M157.2,272.5 L161.3,267.8 L164.1,269.2 L163.4,279.9 L159.2,282.5 L156,281 Z" fill="#fff" stroke-width="1.2"/>
<ellipse cx="159.6" cy="277.6" rx="1.7" ry="2.2" transform="rotate(30 159.6 277.6)" stroke-width="1.1"/>
<path d="M168.4,262.8 L169.1,274.2 L172.7,274.9 L177.7,270 L179.1,261.4 L173.4,260.3 Z" fill="#fff" stroke-width="1.2"/>
<path d="M168.4,262.8 L170.5,261.5 L171,273" stroke-width="0.9"/>
<ellipse cx="175.2" cy="268.3" rx="1.7" ry="2.2" transform="rotate(30 175.2 268.3)" stroke-width="1.1"/>
<line x1="167.0" y1="303.0" x2="199.0" y2="321.5" />
<path d="M200.6,321.5 L201.1,320.7 L201.5,320.0 L202.0,319.2 L202.4,318.5 L202.9,317.7 L203.4,317.0 L203.9,316.3 L204.4,315.6 L204.9,314.8 L205.4,314.1 L205.9,313.4 L206.4,312.7 L207.0,312.1 L207.5,311.4 L208.1,310.7 L208.6,310.0 L209.2,309.4 L209.7,308.7 L210.3,308.1 L210.9,307.5 L211.4,306.9 L212.0,306.3 L212.6,305.7 L213.2,305.1 L213.8,304.5 L214.4,303.9 L215.0,303.4 L215.6,302.8 L216.2,302.3 L216.8,301.7 L217.4,301.2 L218.1,300.7 L218.7,300.2 L219.3,299.7 L219.3,295.9 L219.9,295.4 L220.6,294.9 L221.3,294.4 L222.0,293.9 L222.7,293.5 L223.4,293.0 L224.1,292.6 L224.8,292.2 L225.5,291.8 L226.2,291.4 L226.9,291.1 L227.6,290.7 L228.3,290.4 L229.0,290.0 L229.7,289.7 L230.4,289.4 L231.1,289.1 L231.8,288.9 L232.5,288.6 L233.2,288.4 L233.1,294.4 L233.7,294.2 L234.3,294.0 L234.9,293.8 L235.5,293.7 L236.5,291.3 L237.1,291.2 L237.7,291.1 L238.4,291.0 L239.0,290.9 L239.6,290.8 L240.2,290.8 L240.8,290.7 L241.4,290.7 L242.0,290.7 L242.6,290.7 L243.2,290.7 L243.7,290.7 L244.3,290.8 L244.9,290.8 L245.4,290.9 L246.0,291.0 L246.6,291.1 L247.1,291.2 L247.6,291.3 L248.2,291.5 L248.7,291.6 L249.2,291.8 L249.8,292.0 L250.3,292.2 L250.8,292.4 L251.3,292.6 L251.7,292.8 L252.2,293.1 L252.7,293.4 L253.2,293.6 L253.6,293.9 L254.1,294.2 L254.5,294.5 L254.9,294.9 L255.4,295.2 L255.8,295.6 L256.2,295.9 L256.6,296.3 L257.0,296.7 L257.4,297.1 L257.7,297.5 L258.1,298.0 L258.5,298.4 L258.8,298.9 L259.1,299.3 L259.5,299.8 L259.8,300.3 L260.1,300.8 L260.4,301.3 L260.7,301.8 L260.9,302.3 L261.2,302.9 L261.5,303.4 L261.7,304.0 L261.9,304.6 L262.2,305.2 L262.4,305.7 L262.6,306.4 L262.8,307.0 L262.9,307.6 L263.1,308.2 L263.3,308.8 L263.4,309.5 L263.6,310.1 L263.7,310.8 L263.8,311.5 L263.9,312.2 L264.0,312.8 L264.1,313.5 L264.2,314.2 L264.2,315.0 L264.3,315.7 L264.3,316.4 L264.3,317.1 L264.3,317.8 L264.4,318.6 L264.3,319.3 L264.3,320.1 L264.3,320.8 L264.3,321.6 L264.2,322.4 L264.1,323.1 L264.1,323.9 L262.5,325.2 L262.4,325.9 L262.3,326.7 L262.2,327.4 L262.1,328.2 L266.6,327.9 L266.4,328.7 L266.2,329.6 L266.1,330.5 L265.9,331.4 L265.6,332.2 L265.4,333.1 L265.2,334.0 L264.9,334.9 L264.7,335.7 L264.4,336.6 L261.1,337.5 L260.9,338.3 L260.6,339.1 L260.3,339.9 L260.0,340.7 L259.7,341.5 L259.4,342.3 L259.0,343.1 L258.7,343.9 L258.4,344.7 L258.0,345.5 L257.6,346.3 L257.3,347.1 L256.9,347.9 L256.5,348.7 L256.1,349.4 L255.7,350.2 L255.3,351.0 L254.8,351.8 L254.4,352.5 L253.9,353.3 L253.5,354.0 L253.0,354.8 L252.6,355.5 L252.1,356.3 L251.6,357.0 L251.1,357.7 L250.6,358.4 L250.1,359.2 L249.6,359.9 L249.1,360.6 L248.6,361.3 L248.0,361.9 L247.5,362.6 L246.9,363.3 L246.4,364.0 L245.8,364.6 L245.3,365.3 L244.7,365.9 L244.1,366.5 L243.6,367.1 L243.0,367.7 L242.4,368.3 L241.8,368.9 L241.2,369.5 L240.6,370.1 L240.0,370.6 L239.4,371.2 L238.8,371.7 L238.2,372.3 L237.6,372.8 L236.9,373.3 L236.3,373.8 L235.7,374.3 L235.1,374.8 L234.4,375.2 L233.8,375.7 L233.2,376.1 L232.5,376.5 L231.9,376.9 L231.3,377.4 L230.6,377.7 L230.0,378.1 L229.3,378.5 L228.7,378.8 L228.0,379.2 L227.4,379.5 L226.8,379.8 L226.1,380.1 L225.5,380.4 L224.8,380.7 L224.2,381.0 L223.6,381.2 L222.9,381.4 L222.3,381.7 L221.6,381.9 L221.0,382.1 L220.4,382.2 L219.7,382.4 L219.1,382.6 L218.5,382.7 L217.9,382.8 L217.3,382.9 L216.6,383.0 L216.0,383.1 L215.4,383.2 L214.8,383.2 L214.2,383.3 L213.6,383.3 L213.0,383.3 L212.4,383.3 L211.8,383.3 L211.3,383.3 L210.7,383.2 L210.1,383.2 L209.6,383.1 L209.0,383.0 L208.4,382.9 L207.9,382.8 L207.4,382.7 L206.8,382.5 L206.3,382.4 L205.8,382.2 L205.2,382.0 L204.7,381.8 L204.2,381.6 L203.7,381.4 L203.3,381.2 L202.8,380.9 L202.3,380.6 L201.8,380.4 L201.4,380.1 L200.9,379.8 L200.5,379.5 L200.1,379.1 L199.6,378.8 L199.2,378.4 L198.8,378.1 L198.4,377.7 L198.0,377.3 L197.6,376.9 L197.3,376.5 L194.2,379.5 L193.8,379.0 L193.4,378.5 L193.0,378.0 L192.7,377.5 L192.3,377.0 L192.0,376.4 L191.7,375.9 L191.4,375.3 L191.1,374.7 L190.8,374.2 L190.5,373.6 L190.2,372.9 L190.0,372.3 L189.7,371.7 L194.0,367.0 L193.8,366.4 L193.6,365.8 L193.5,365.3 L193.3,364.6 L191.7,365.2 L191.6,364.5 L191.4,363.9 L191.3,363.2 L191.2,362.5 L191.1,361.8 L191.0,361.2 L190.9,360.5 L190.8,359.8 L190.8,359.0 L190.7,358.3 L190.7,357.6 L190.7,356.9 L190.7,356.2 L190.6,355.4 L190.7,354.7 L190.7,353.9 L190.7,353.2 L190.7,352.4 L190.8,351.6 L190.9,350.9 L190.9,350.1 L191.0,349.3 L191.1,348.5 L191.2,347.8 L191.3,347.0 L191.5,346.2 L191.6,345.4 L191.8,344.6 L191.9,343.8 L192.1,343.0 L192.3,342.2 L192.5,341.4 L192.7,340.6 L192.9,339.8 L193.1,339.0 L193.4,338.1 L193.6,337.3 L193.9,336.5 L194.1,335.7 L194.4,334.9 L194.7,334.1 L195.0,333.3 L195.3,332.5 L195.6,331.7 L196.0,330.9 L196.3,330.1 L196.6,329.3 L197.0,328.5 L197.4,327.7 L197.7,326.9 L198.1,326.1 L198.5,325.3 L198.9,324.6 L199.3,323.8 L199.7,323.0 L200.2,322.2 Z" fill="#fff" stroke-width="1.2"/>
<path d="M200.2,376.5 L199.3,375.5 L198.4,374.3 L197.6,373.2 L196.8,371.9 L196.1,370.6 L195.5,369.2 L194.9,367.7 L194.4,366.2 L194.0,364.7 L193.6,363.1 L193.3,361.4 L193.1,359.7 L193.0,357.9 L192.9,356.1 L192.9,354.2 L192.9,352.4 L193.0,350.5 L193.2,348.5 L193.5,346.6 L193.8,344.6 L194.2,342.6 L194.7,340.6 L195.2,338.6 L195.8,336.5 L196.5,334.5 L197.2,332.5 L198.0,330.5 L198.8,328.5 L199.8,326.5 L200.7,324.5 L201.7,322.6 L202.8,320.7 L203.9,318.8 L205.1,316.9 L206.3,315.1 L207.6,313.3 L208.9,311.6 L210.3,309.9 L211.6,308.3 L213.1,306.7" stroke-width="0.9"/>
<ellipse cx="228.5" cy="338.5" rx="20.57" ry="33.40" transform="rotate(30 228.5 338.5)" stroke-width="1.2"/>
<path d="M248.1,315.6 L248.7,316.8 L249.2,318.0 L249.6,319.3 L250.0,320.6 L250.3,322.1 L250.5,323.5 L250.7,325.0 L250.7,326.6 L250.7,328.2 L250.6,329.9 L250.4,331.5 L250.2,333.2 L249.8,334.9 L249.4,336.7 L249.0,338.4 L248.4,340.1 L247.8,341.9 L247.1,343.6 L246.3,345.3 L245.5,347.0 L244.6,348.7 L243.7,350.3 L242.7,351.9 L241.6,353.5 L240.5,355.0 L239.4,356.5 L238.2,357.9 L236.9,359.3 L235.7,360.6 L234.4,361.8 L233.1,362.9 L231.7,364.0 L230.4,365.0 L229.0,365.9 L227.6,366.7 L226.2,367.5 L224.9,368.1 L223.5,368.7 L222.1,369.1 L220.7,369.5" stroke-width="1"/>
<line x1="227.5" y1="335.9" x2="262.0" y2="355.9" />
<ellipse cx="283" cy="368" rx="23.16" ry="37.60" transform="rotate(30 283 368)" fill="url(#dots)" stroke-width="1.8"/>
<ellipse cx="283" cy="368" rx="16.20" ry="26.30" transform="rotate(30 283 368)" fill="#fff" stroke-width="1.6"/>
<path d="M289.5,359.8 L288.6,364.6 L291.9,366.5 L288.6,369.5 L289.7,374.0 L285.4,373.6 L283.1,377.5 L280.8,374.4 L276.5,376.2 L277.4,371.4 L274.1,369.5 L277.4,366.5 L276.3,362.0 L280.6,362.4 L282.9,358.5 L285.2,361.6 Z" stroke-width="1"/>
<ellipse cx="279.0" cy="356.4" rx="1.6" ry="2.3" transform="rotate(30 279.0 356.4)" stroke-width="1.2"/>
<ellipse cx="298.0" cy="354.8" rx="1.6" ry="2.3" transform="rotate(30 298.0 354.8)" stroke-width="1.2"/>
<ellipse cx="270.8" cy="383.0" rx="1.6" ry="2.3" transform="rotate(30 270.8 383.0)" stroke-width="1.2"/>
<ellipse cx="290.0" cy="380.7" rx="1.6" ry="2.3" transform="rotate(30 290.0 380.7)" stroke-width="1.2"/>
<line x1="283.0" y1="368.0" x2="311.0" y2="384.2" />
<path d="M307.8,382.4 L308.2,381.8 L308.5,381.2 L308.9,380.7 L309.2,380.1 L309.6,379.5 L309.9,379.0 L310.3,378.5 L310.7,377.9 L311.0,377.4 L311.4,376.8 L311.8,376.3 L312.2,375.8 L312.6,375.3 L313.0,374.8 L313.4,374.3 L313.8,373.8 L314.2,373.3 L314.7,372.8 L315.1,372.3 L315.5,371.9 L315.9,371.4 L316.4,370.9 L316.8,370.5 L317.3,370.0 L317.7,369.6 L318.2,369.2 L318.6,368.8 L319.1,368.4 L319.5,367.9 L320.0,367.5 L320.4,367.2 L320.9,366.8 L321.4,366.4 L321.9,366.0 L322.3,365.7 L322.2,362.1 L322.7,361.7 L323.3,361.3 L323.8,361.0 L324.3,360.6 L324.9,360.3 L325.4,360.0 L325.9,359.7 L326.5,359.3 L327.0,359.1 L327.5,358.8 L328.1,358.5 L328.6,358.2 L329.2,358.0 L329.7,357.7 L330.2,357.5 L330.8,357.3 L331.3,357.1 L331.8,356.9 L332.4,356.7 L332.9,356.5 L332.6,361.8 L333.1,361.7 L333.5,361.6 L334.0,361.5 L334.4,361.4 L335.2,359.6 L335.7,359.5 L336.1,359.5 L336.6,359.4 L337.1,359.4 L337.5,359.3 L338.0,359.3 L338.4,359.3 L338.9,359.3 L339.3,359.3 L339.7,359.3 L340.2,359.3 L340.6,359.3 L341.0,359.4 L341.5,359.4 L341.9,359.5 L342.3,359.6 L342.7,359.6 L343.1,359.7 L343.5,359.8 L343.9,360.0 L344.3,360.1 L344.7,360.2 L345.1,360.4 L345.4,360.5 L345.8,360.7 L346.2,360.9 L346.5,361.1 L346.9,361.3 L347.2,361.5 L347.6,361.7 L347.9,361.9 L348.3,362.2 L348.6,362.4 L348.9,362.7 L349.2,362.9 L349.5,363.2 L349.8,363.5 L350.1,363.8 L350.4,364.1 L350.7,364.4 L351.0,364.7 L351.2,365.1 L351.5,365.4 L351.7,365.7 L352.0,366.1 L352.2,366.5 L352.4,366.8 L352.7,367.2 L352.9,367.6 L353.1,368.0 L353.3,368.4 L353.5,368.8 L353.7,369.3 L353.8,369.7 L354.0,370.1 L354.2,370.6 L354.3,371.0 L354.5,371.5 L354.6,371.9 L354.7,372.4 L354.8,372.9 L354.9,373.4 L355.0,373.9 L355.1,374.4 L355.2,374.9 L355.3,375.4 L355.4,375.9 L355.4,376.4 L355.5,376.9 L355.5,377.5 L355.6,378.0 L355.6,378.5 L355.6,379.1 L355.6,379.6 L355.6,380.2 L355.6,380.7 L355.6,381.3 L355.6,381.9 L355.6,382.4 L355.5,383.0 L355.5,383.6 L355.4,384.2 L355.4,384.8 L355.3,385.3 L355.2,385.9 L355.1,386.5 L355.0,387.1 L354.9,387.7 L354.8,388.3 L354.7,388.9 L357.6,389.0 L357.4,389.7 L357.3,390.3 L357.1,391.0 L356.9,391.7 L356.7,392.4 L356.5,393.0 L356.3,393.7 L356.1,394.4 L355.9,395.1 L355.6,395.7 L352.6,396.2 L352.4,396.8 L352.1,397.4 L351.9,398.0 L351.7,398.6 L351.4,399.2 L351.1,399.8 L350.9,400.4 L350.6,401.0 L350.3,401.6 L350.0,402.2 L349.7,402.7 L349.4,403.3 L349.1,403.9 L348.8,404.5 L348.5,405.1 L348.2,405.6 L347.8,406.2 L347.5,406.8 L347.1,407.3 L346.8,407.9 L346.4,408.5 L346.1,409.0 L345.7,409.5 L345.3,410.1 L345.0,410.6 L344.6,411.2 L344.2,411.7 L343.8,412.2 L343.4,412.7 L343.0,413.2 L342.6,413.7 L342.2,414.2 L341.8,414.7 L341.3,415.2 L340.9,415.7 L340.5,416.1 L340.1,416.6 L339.6,417.1 L339.2,417.5 L338.7,418.0 L338.3,418.4 L337.8,418.8 L337.4,419.2 L336.9,419.6 L336.5,420.1 L336.0,420.5 L335.6,420.8 L335.1,421.2 L334.6,421.6 L334.1,422.0 L333.7,422.3 L333.2,422.7 L332.7,423.0 L332.3,423.3 L331.8,423.6 L331.3,424.0 L330.8,424.3 L330.3,424.6 L329.9,424.8 L329.4,425.1 L328.9,425.4 L328.4,425.6 L327.9,425.9 L327.4,426.1 L327.0,426.3 L326.5,426.6 L326.0,426.8 L325.5,427.0 L325.0,427.2 L324.6,427.3 L324.1,427.5 L323.6,427.6 L323.1,427.8 L322.7,427.9 L322.2,428.1 L321.7,428.2 L321.2,428.3 L320.8,428.4 L320.3,428.5 L319.9,428.5 L319.4,428.6 L318.9,428.6 L318.5,428.7 L318.0,428.7 L317.6,428.7 L317.1,428.7 L316.7,428.7 L316.3,428.7 L315.8,428.7 L315.4,428.7 L315.0,428.6 L314.5,428.6 L314.1,428.5 L313.7,428.4 L313.3,428.4 L312.9,428.3 L312.5,428.2 L312.1,428.0 L311.7,427.9 L311.3,427.8 L310.9,427.6 L310.6,427.5 L310.2,427.3 L309.8,427.1 L309.5,426.9 L309.1,426.7 L308.8,426.5 L308.4,426.3 L308.1,426.1 L307.7,425.8 L307.4,425.6 L304.7,428.9 L304.4,428.6 L304.0,428.3 L303.7,428.0 L303.4,427.7 L303.1,427.3 L302.7,427.0 L302.4,426.6 L302.1,426.2 L301.9,425.9 L301.6,425.5 L301.3,425.1 L301.0,424.7 L300.8,424.3 L300.5,423.8 L300.3,423.4 L300.1,422.9 L299.8,422.5 L299.6,422.0 L302.3,418.7 L303.4,417.2 L303.2,416.7 L303.1,416.3 L302.9,415.9 L302.8,415.5 L301.4,416.1 L301.3,415.6 L301.2,415.1 L301.1,414.6 L301.0,414.1 L300.9,413.6 L300.8,413.1 L300.7,412.6 L300.6,412.1 L300.6,411.6 L300.5,411.1 L300.5,410.5 L300.4,410.0 L300.4,409.5 L300.4,408.9 L300.4,408.4 L300.4,407.8 L300.4,407.3 L300.4,406.7 L300.4,406.1 L300.4,405.6 L300.5,405.0 L300.5,404.4 L300.6,403.8 L300.6,403.2 L300.7,402.7 L300.8,402.1 L300.9,401.5 L301.0,400.9 L301.1,400.3 L301.2,399.7 L301.3,399.1 L301.5,398.5 L301.6,397.9 L301.7,397.3 L301.9,396.7 L302.1,396.1 L302.2,395.5 L302.4,394.9 L302.6,394.3 L302.8,393.6 L303.0,393.0 L303.2,392.4 L303.4,391.8 L303.6,391.2 L303.9,390.6 L304.1,390.0 L304.3,389.4 L304.6,388.8 L304.9,388.2 L305.1,387.6 L305.4,387.0 L305.7,386.4 L306.0,385.8 L306.3,385.3 L306.6,384.7 L306.9,384.1 L307.2,383.5 L307.5,382.9 Z" fill="#fff" stroke-width="1.2"/>
<path d="M309.2,425.0 L308.2,424.1 L307.2,423.1 L306.3,422.0 L305.5,420.7 L304.7,419.4 L304.1,418.0 L303.5,416.6 L303.1,415.0 L302.7,413.4 L302.4,411.6 L302.3,409.9 L302.2,408.0 L302.2,406.2 L302.3,404.2 L302.5,402.3 L302.8,400.3 L303.2,398.3 L303.7,396.2 L304.2,394.2 L304.9,392.1 L305.6,390.1 L306.5,388.1 L307.4,386.1 L308.4,384.1 L309.4,382.1 L310.6,380.2 L311.8,378.3 L313.0,376.5 L314.4,374.8 L315.7,373.1 L317.2,371.4 L318.6,369.9 L320.1,368.4 L321.7,367.0 L323.2,365.8 L324.8,364.6 L326.4,363.5 L328.1,362.5 L329.7,361.6 L331.3,360.8" stroke-width="0.9"/>
<ellipse cx="328" cy="394" rx="16.32" ry="26.50" transform="rotate(30 328 394)" stroke-width="1.4"/>
<path d="M344.7,378.8 L345.0,379.8 L345.2,380.8 L345.4,381.9 L345.5,383.0 L345.6,384.1 L345.6,385.3 L345.5,386.5 L345.4,387.7 L345.3,388.9 L345.1,390.2 L344.8,391.5 L344.5,392.7 L344.1,394.0 L343.7,395.3 L343.3,396.5 L342.8,397.8 L342.2,399.1 L341.6,400.3 L341.0,401.5 L340.3,402.8 L339.6,404.0 L338.9,405.1 L338.1,406.3 L337.3,407.4 L336.4,408.4 L335.6,409.5 L334.6,410.4 L333.7,411.4 L332.8,412.3 L331.8,413.1 L330.8,413.9 L329.8,414.7 L328.8,415.4 L327.8,416.0 L326.8,416.6 L325.8,417.1 L324.8,417.6 L323.8,418.0 L322.8,418.3 L321.8,418.6" stroke-width="1"/>
<line x1="328.0" y1="394.0" x2="355.0" y2="409.6" />
<ellipse cx="373" cy="420" rx="23.16" ry="37.60" transform="rotate(30 373 420)" fill="url(#dots)" stroke-width="1.8"/>
<ellipse cx="373" cy="420" rx="16.20" ry="26.30" transform="rotate(30 373 420)" fill="#fff" stroke-width="1.6"/>
<path d="M379.5,411.8 L378.6,416.6 L381.9,418.5 L378.6,421.5 L379.7,426.0 L375.4,425.6 L373.1,429.5 L370.8,426.4 L366.5,428.2 L367.4,423.4 L364.1,421.5 L367.4,418.5 L366.3,414.0 L370.6,414.4 L372.9,410.5 L375.2,413.6 Z" stroke-width="1"/>
<ellipse cx="369.0" cy="408.4" rx="1.6" ry="2.3" transform="rotate(30 369.0 408.4)" stroke-width="1.2"/>
<ellipse cx="388.0" cy="406.8" rx="1.6" ry="2.3" transform="rotate(30 388.0 406.8)" stroke-width="1.2"/>
<ellipse cx="360.8" cy="435.0" rx="1.6" ry="2.3" transform="rotate(30 360.8 435.0)" stroke-width="1.2"/>
<ellipse cx="380.0" cy="432.7" rx="1.6" ry="2.3" transform="rotate(30 380.0 432.7)" stroke-width="1.2"/>
<line x1="373.0" y1="420.0" x2="401.0" y2="436.2" />
<path d="M397.8,434.4 L398.2,433.8 L398.5,433.2 L398.9,432.7 L399.2,432.1 L399.6,431.5 L399.9,431.0 L400.3,430.5 L400.7,429.9 L401.0,429.4 L401.4,428.8 L401.8,428.3 L402.2,427.8 L402.6,427.3 L403.0,426.8 L403.4,426.3 L403.8,425.8 L404.2,425.3 L404.7,424.8 L405.1,424.3 L405.5,423.9 L405.9,423.4 L406.4,422.9 L406.8,422.5 L407.3,422.0 L407.7,421.6 L408.2,421.2 L408.6,420.8 L409.1,420.4 L409.5,419.9 L410.0,419.5 L410.4,419.2 L410.9,418.8 L411.4,418.4 L411.9,418.0 L412.3,417.7 L412.2,414.1 L412.7,413.7 L413.3,413.3 L413.8,413.0 L414.3,412.6 L414.9,412.3 L415.4,412.0 L415.9,411.7 L416.5,411.3 L417.0,411.1 L417.5,410.8 L418.1,410.5 L418.6,410.2 L419.2,410.0 L419.7,409.7 L420.2,409.5 L420.8,409.3 L421.3,409.1 L421.8,408.9 L422.4,408.7 L422.9,408.5 L422.6,413.8 L423.1,413.7 L423.5,413.6 L424.0,413.5 L424.4,413.4 L425.2,411.6 L425.7,411.5 L426.1,411.5 L426.6,411.4 L427.1,411.4 L427.5,411.3 L428.0,411.3 L428.4,411.3 L428.9,411.3 L429.3,411.3 L429.7,411.3 L430.2,411.3 L430.6,411.3 L431.0,411.4 L431.5,411.4 L431.9,411.5 L432.3,411.6 L432.7,411.6 L433.1,411.7 L433.5,411.8 L433.9,412.0 L434.3,412.1 L434.7,412.2 L435.1,412.4 L435.4,412.5 L435.8,412.7 L436.2,412.9 L436.5,413.1 L436.9,413.3 L437.2,413.5 L437.6,413.7 L437.9,413.9 L438.3,414.2 L438.6,414.4 L438.9,414.7 L439.2,414.9 L439.5,415.2 L439.8,415.5 L440.1,415.8 L440.4,416.1 L440.7,416.4 L441.0,416.7 L441.2,417.1 L441.5,417.4 L441.7,417.7 L442.0,418.1 L442.2,418.5 L442.4,418.8 L442.7,419.2 L442.9,419.6 L443.1,420.0 L443.3,420.4 L443.5,420.8 L443.7,421.3 L443.8,421.7 L444.0,422.1 L444.2,422.6 L444.3,423.0 L444.5,423.5 L444.6,423.9 L444.7,424.4 L444.8,424.9 L444.9,425.4 L445.0,425.9 L445.1,426.4 L445.2,426.9 L445.3,427.4 L445.4,427.9 L445.4,428.4 L445.5,428.9 L445.5,429.5 L445.6,430.0 L445.6,430.5 L445.6,431.1 L445.6,431.6 L445.6,432.2 L445.6,432.7 L445.6,433.3 L445.6,433.9 L445.6,434.4 L445.5,435.0 L445.5,435.6 L445.4,436.2 L445.4,436.8 L445.3,437.3 L445.2,437.9 L445.1,438.5 L445.0,439.1 L444.9,439.7 L444.8,440.3 L444.7,440.9 L447.6,441.0 L447.4,441.7 L447.3,442.3 L447.1,443.0 L446.9,443.7 L446.7,444.4 L446.5,445.0 L446.3,445.7 L446.1,446.4 L445.9,447.1 L445.6,447.7 L442.6,448.2 L442.4,448.8 L442.1,449.4 L441.9,450.0 L441.7,450.6 L441.4,451.2 L441.1,451.8 L440.9,452.4 L440.6,453.0 L440.3,453.6 L440.0,454.2 L439.7,454.7 L439.4,455.3 L439.1,455.9 L438.8,456.5 L438.5,457.1 L438.2,457.6 L437.8,458.2 L437.5,458.8 L437.1,459.3 L436.8,459.9 L436.4,460.5 L436.1,461.0 L435.7,461.5 L435.3,462.1 L435.0,462.6 L434.6,463.2 L434.2,463.7 L433.8,464.2 L433.4,464.7 L433.0,465.2 L432.6,465.7 L432.2,466.2 L431.8,466.7 L431.3,467.2 L430.9,467.7 L430.5,468.1 L430.1,468.6 L429.6,469.1 L429.2,469.5 L428.7,470.0 L428.3,470.4 L427.8,470.8 L427.4,471.2 L426.9,471.6 L426.5,472.1 L426.0,472.5 L425.6,472.8 L425.1,473.2 L424.6,473.6 L424.1,474.0 L423.7,474.3 L423.2,474.7 L422.7,475.0 L422.3,475.3 L421.8,475.6 L421.3,476.0 L420.8,476.3 L420.3,476.6 L419.9,476.8 L419.4,477.1 L418.9,477.4 L418.4,477.6 L417.9,477.9 L417.4,478.1 L417.0,478.3 L416.5,478.6 L416.0,478.8 L415.5,479.0 L415.0,479.2 L414.6,479.3 L414.1,479.5 L413.6,479.6 L413.1,479.8 L412.7,479.9 L412.2,480.1 L411.7,480.2 L411.2,480.3 L410.8,480.4 L410.3,480.5 L409.9,480.5 L409.4,480.6 L408.9,480.6 L408.5,480.7 L408.0,480.7 L407.6,480.7 L407.1,480.7 L406.7,480.7 L406.3,480.7 L405.8,480.7 L405.4,480.7 L405.0,480.6 L404.5,480.6 L404.1,480.5 L403.7,480.4 L403.3,480.4 L402.9,480.3 L402.5,480.2 L402.1,480.0 L401.7,479.9 L401.3,479.8 L400.9,479.6 L400.6,479.5 L400.2,479.3 L399.8,479.1 L399.5,478.9 L399.1,478.7 L398.8,478.5 L398.4,478.3 L398.1,478.1 L397.7,477.8 L397.4,477.6 L394.7,480.9 L394.4,480.6 L394.0,480.3 L393.7,480.0 L393.4,479.7 L393.1,479.3 L392.7,479.0 L392.4,478.6 L392.1,478.2 L391.9,477.9 L391.6,477.5 L391.3,477.1 L391.0,476.7 L390.8,476.3 L390.5,475.8 L390.3,475.4 L390.1,474.9 L389.8,474.5 L389.6,474.0 L392.3,470.7 L393.4,469.2 L393.2,468.7 L393.1,468.3 L392.9,467.9 L392.8,467.5 L391.4,468.1 L391.3,467.6 L391.2,467.1 L391.1,466.6 L391.0,466.1 L390.9,465.6 L390.8,465.1 L390.7,464.6 L390.6,464.1 L390.6,463.6 L390.5,463.1 L390.5,462.5 L390.4,462.0 L390.4,461.5 L390.4,460.9 L390.4,460.4 L390.4,459.8 L390.4,459.3 L390.4,458.7 L390.4,458.1 L390.4,457.6 L390.5,457.0 L390.5,456.4 L390.6,455.8 L390.6,455.2 L390.7,454.7 L390.8,454.1 L390.9,453.5 L391.0,452.9 L391.1,452.3 L391.2,451.7 L391.3,451.1 L391.5,450.5 L391.6,449.9 L391.7,449.3 L391.9,448.7 L392.1,448.1 L392.2,447.5 L392.4,446.9 L392.6,446.3 L392.8,445.6 L393.0,445.0 L393.2,444.4 L393.4,443.8 L393.6,443.2 L393.9,442.6 L394.1,442.0 L394.3,441.4 L394.6,440.8 L394.9,440.2 L395.1,439.6 L395.4,439.0 L395.7,438.4 L396.0,437.8 L396.3,437.3 L396.6,436.7 L396.9,436.1 L397.2,435.5 L397.5,434.9 Z" fill="#fff" stroke-width="1.2"/>
<path d="M399.2,477.0 L398.2,476.1 L397.2,475.1 L396.3,474.0 L395.5,472.7 L394.7,471.4 L394.1,470.0 L393.5,468.6 L393.1,467.0 L392.7,465.4 L392.4,463.6 L392.3,461.9 L392.2,460.0 L392.2,458.2 L392.3,456.2 L392.5,454.3 L392.8,452.3 L393.2,450.3 L393.7,448.2 L394.2,446.2 L394.9,444.1 L395.6,442.1 L396.5,440.1 L397.4,438.1 L398.4,436.1 L399.4,434.1 L400.6,432.2 L401.8,430.3 L403.0,428.5 L404.4,426.8 L405.7,425.1 L407.2,423.4 L408.6,421.9 L410.1,420.4 L411.7,419.0 L413.2,417.8 L414.8,416.6 L416.4,415.5 L418.1,414.5 L419.7,413.6 L421.3,412.8" stroke-width="0.9"/>
<ellipse cx="418" cy="446" rx="16.32" ry="26.50" transform="rotate(30 418 446)" stroke-width="1.4"/>
<path d="M434.7,430.8 L435.0,431.8 L435.2,432.8 L435.4,433.9 L435.5,435.0 L435.6,436.1 L435.6,437.3 L435.5,438.5 L435.4,439.7 L435.3,440.9 L435.1,442.2 L434.8,443.5 L434.5,444.7 L434.1,446.0 L433.7,447.3 L433.3,448.5 L432.8,449.8 L432.2,451.1 L431.6,452.3 L431.0,453.5 L430.3,454.8 L429.6,456.0 L428.9,457.1 L428.1,458.3 L427.3,459.4 L426.4,460.4 L425.6,461.5 L424.6,462.4 L423.7,463.4 L422.8,464.3 L421.8,465.1 L420.8,465.9 L419.8,466.7 L418.8,467.4 L417.8,468.0 L416.8,468.6 L415.8,469.1 L414.8,469.6 L413.8,470.0 L412.8,470.3 L411.8,470.6" stroke-width="1"/>
<line x1="418.0" y1="446.0" x2="445.0" y2="461.6" />
<ellipse cx="463" cy="472" rx="23.16" ry="37.60" transform="rotate(30 463 472)" fill="url(#dots)" stroke-width="1.8"/>
<ellipse cx="463" cy="472" rx="16.20" ry="26.30" transform="rotate(30 463 472)" fill="#fff" stroke-width="1.6"/>
<path d="M469.5,463.8 L468.6,468.6 L471.9,470.5 L468.6,473.5 L469.7,478.0 L465.4,477.6 L463.1,481.5 L460.8,478.4 L456.5,480.2 L457.4,475.4 L454.1,473.5 L457.4,470.5 L456.3,466.0 L460.6,466.4 L462.9,462.5 L465.2,465.6 Z" stroke-width="1"/>
<ellipse cx="459.0" cy="460.4" rx="1.6" ry="2.3" transform="rotate(30 459.0 460.4)" stroke-width="1.2"/>
<ellipse cx="478.0" cy="458.8" rx="1.6" ry="2.3" transform="rotate(30 478.0 458.8)" stroke-width="1.2"/>
<ellipse cx="450.8" cy="487.0" rx="1.6" ry="2.3" transform="rotate(30 450.8 487.0)" stroke-width="1.2"/>
<ellipse cx="470.0" cy="484.7" rx="1.6" ry="2.3" transform="rotate(30 470.0 484.7)" stroke-width="1.2"/>
<line x1="463.0" y1="472.0" x2="491.0" y2="488.2" />
<path d="M487.8,486.4 L488.2,485.8 L488.5,485.2 L488.9,484.7 L489.2,484.1 L489.6,483.5 L489.9,483.0 L490.3,482.5 L490.7,481.9 L491.0,481.4 L491.4,480.8 L491.8,480.3 L492.2,479.8 L492.6,479.3 L493.0,478.8 L493.4,478.3 L493.8,477.8 L494.2,477.3 L494.7,476.8 L495.1,476.3 L495.5,475.9 L495.9,475.4 L496.4,474.9 L496.8,474.5 L497.3,474.0 L497.7,473.6 L498.2,473.2 L498.6,472.8 L499.1,472.4 L499.5,471.9 L500.0,471.5 L500.4,471.2 L500.9,470.8 L501.4,470.4 L501.9,470.0 L502.3,469.7 L502.2,466.1 L502.7,465.7 L503.3,465.3 L503.8,465.0 L504.3,464.6 L504.9,464.3 L505.4,464.0 L505.9,463.7 L506.5,463.3 L507.0,463.1 L507.5,462.8 L508.1,462.5 L508.6,462.2 L509.2,462.0 L509.7,461.7 L510.2,461.5 L510.8,461.3 L511.3,461.1 L511.8,460.9 L512.4,460.7 L512.9,460.5 L512.6,465.8 L513.1,465.7 L513.5,465.6 L514.0,465.5 L514.4,465.4 L515.2,463.6 L515.7,463.5 L516.1,463.5 L516.6,463.4 L517.1,463.4 L517.5,463.3 L518.0,463.3 L518.4,463.3 L518.9,463.3 L519.3,463.3 L519.7,463.3 L520.2,463.3 L520.6,463.3 L521.0,463.4 L521.5,463.4 L521.9,463.5 L522.3,463.6 L522.7,463.6 L523.1,463.7 L523.5,463.8 L523.9,464.0 L524.3,464.1 L524.7,464.2 L525.1,464.4 L525.4,464.5 L525.8,464.7 L526.2,464.9 L526.5,465.1 L526.9,465.3 L527.2,465.5 L527.6,465.7 L527.9,465.9 L528.3,466.2 L528.6,466.4 L528.9,466.7 L529.2,466.9 L529.5,467.2 L529.8,467.5 L530.1,467.8 L530.4,468.1 L530.7,468.4 L531.0,468.7 L531.2,469.1 L531.5,469.4 L531.7,469.7 L532.0,470.1 L532.2,470.5 L532.4,470.8 L532.7,471.2 L532.9,471.6 L533.1,472.0 L533.3,472.4 L533.5,472.8 L533.7,473.3 L533.8,473.7 L534.0,474.1 L534.2,474.6 L534.3,475.0 L534.5,475.5 L534.6,475.9 L534.7,476.4 L534.8,476.9 L534.9,477.4 L535.0,477.9 L535.1,478.4 L535.2,478.9 L535.3,479.4 L535.4,479.9 L535.4,480.4 L535.5,480.9 L535.5,481.5 L535.6,482.0 L535.6,482.5 L535.6,483.1 L535.6,483.6 L535.6,484.2 L535.6,484.7 L535.6,485.3 L535.6,485.9 L535.6,486.4 L535.5,487.0 L535.5,487.6 L535.4,488.2 L535.4,488.8 L535.3,489.3 L535.2,489.9 L535.1,490.5 L535.0,491.1 L534.9,491.7 L534.8,492.3 L534.7,492.9 L537.6,493.0 L537.4,493.7 L537.3,494.3 L537.1,495.0 L536.9,495.7 L536.7,496.4 L536.5,497.0 L536.3,497.7 L536.1,498.4 L535.9,499.1 L535.6,499.7 L532.6,500.2 L532.4,500.8 L532.1,501.4 L531.9,502.0 L531.7,502.6 L531.4,503.2 L531.1,503.8 L530.9,504.4 L530.6,505.0 L530.3,505.6 L530.0,506.2 L529.7,506.7 L529.4,507.3 L529.1,507.9 L528.8,508.5 L528.5,509.1 L528.2,509.6 L527.8,510.2 L527.5,510.8 L527.1,511.3 L526.8,511.9 L526.4,512.5 L526.1,513.0 L525.7,513.5 L525.3,514.1 L525.0,514.6 L524.6,515.2 L524.2,515.7 L523.8,516.2 L523.4,516.7 L523.0,517.2 L522.6,517.7 L522.2,518.2 L521.8,518.7 L521.3,519.2 L520.9,519.7 L520.5,520.1 L520.1,520.6 L519.6,521.1 L519.2,521.5 L518.7,522.0 L518.3,522.4 L517.8,522.8 L517.4,523.2 L516.9,523.6 L516.5,524.1 L516.0,524.5 L515.6,524.8 L515.1,525.2 L514.6,525.6 L514.1,526.0 L513.7,526.3 L513.2,526.7 L512.7,527.0 L512.3,527.3 L511.8,527.6 L511.3,528.0 L510.8,528.3 L510.3,528.6 L509.9,528.8 L509.4,529.1 L508.9,529.4 L508.4,529.6 L507.9,529.9 L507.4,530.1 L507.0,530.3 L506.5,530.6 L506.0,530.8 L505.5,531.0 L505.0,531.2 L504.6,531.3 L504.1,531.5 L503.6,531.6 L503.1,531.8 L502.7,531.9 L502.2,532.1 L501.7,532.2 L501.2,532.3 L500.8,532.4 L500.3,532.5 L499.9,532.5 L499.4,532.6 L498.9,532.6 L498.5,532.7 L498.0,532.7 L497.6,532.7 L497.1,532.7 L496.7,532.7 L496.3,532.7 L495.8,532.7 L495.4,532.7 L495.0,532.6 L494.5,532.6 L494.1,532.5 L493.7,532.4 L493.3,532.4 L492.9,532.3 L492.5,532.2 L492.1,532.0 L491.7,531.9 L491.3,531.8 L490.9,531.6 L490.6,531.5 L490.2,531.3 L489.8,531.1 L489.5,530.9 L489.1,530.7 L488.8,530.5 L488.4,530.3 L488.1,530.1 L487.7,529.8 L487.4,529.6 L484.7,532.9 L484.4,532.6 L484.0,532.3 L483.7,532.0 L483.4,531.7 L483.1,531.3 L482.7,531.0 L482.4,530.6 L482.1,530.2 L481.9,529.9 L481.6,529.5 L481.3,529.1 L481.0,528.7 L480.8,528.3 L480.5,527.8 L480.3,527.4 L480.1,526.9 L479.8,526.5 L479.6,526.0 L482.3,522.7 L483.4,521.2 L483.2,520.7 L483.1,520.3 L482.9,519.9 L482.8,519.5 L481.4,520.1 L481.3,519.6 L481.2,519.1 L481.1,518.6 L481.0,518.1 L480.9,517.6 L480.8,517.1 L480.7,516.6 L480.6,516.1 L480.6,515.6 L480.5,515.1 L480.5,514.5 L480.4,514.0 L480.4,513.5 L480.4,512.9 L480.4,512.4 L480.4,511.8 L480.4,511.3 L480.4,510.7 L480.4,510.1 L480.4,509.6 L480.5,509.0 L480.5,508.4 L480.6,507.8 L480.6,507.2 L480.7,506.7 L480.8,506.1 L480.9,505.5 L481.0,504.9 L481.1,504.3 L481.2,503.7 L481.3,503.1 L481.5,502.5 L481.6,501.9 L481.7,501.3 L481.9,500.7 L482.1,500.1 L482.2,499.5 L482.4,498.9 L482.6,498.3 L482.8,497.6 L483.0,497.0 L483.2,496.4 L483.4,495.8 L483.6,495.2 L483.9,494.6 L484.1,494.0 L484.3,493.4 L484.6,492.8 L484.9,492.2 L485.1,491.6 L485.4,491.0 L485.7,490.4 L486.0,489.8 L486.3,489.3 L486.6,488.7 L486.9,488.1 L487.2,487.5 L487.5,486.9 Z" fill="#fff" stroke-width="1.2"/>
<path d="M489.2,529.0 L488.2,528.1 L487.2,527.1 L486.3,526.0 L485.5,524.7 L484.7,523.4 L484.1,522.0 L483.5,520.6 L483.1,519.0 L482.7,517.4 L482.4,515.6 L482.3,513.9 L482.2,512.0 L482.2,510.2 L482.3,508.2 L482.5,506.3 L482.8,504.3 L483.2,502.3 L483.7,500.2 L484.2,498.2 L484.9,496.1 L485.6,494.1 L486.5,492.1 L487.4,490.1 L488.4,488.1 L489.4,486.1 L490.6,484.2 L491.8,482.3 L493.0,480.5 L494.4,478.8 L495.7,477.1 L497.2,475.4 L498.6,473.9 L500.1,472.4 L501.7,471.0 L503.2,469.8 L504.8,468.6 L506.4,467.5 L508.1,466.5 L509.7,465.6 L511.3,464.8" stroke-width="0.9"/>
<ellipse cx="508" cy="498" rx="16.32" ry="26.50" transform="rotate(30 508 498)" stroke-width="1.4"/>
<path d="M524.7,482.8 L525.0,483.8 L525.2,484.8 L525.4,485.9 L525.5,487.0 L525.6,488.1 L525.6,489.3 L525.5,490.5 L525.4,491.7 L525.3,492.9 L525.1,494.2 L524.8,495.5 L524.5,496.7 L524.1,498.0 L523.7,499.3 L523.3,500.5 L522.8,501.8 L522.2,503.1 L521.6,504.3 L521.0,505.5 L520.3,506.8 L519.6,508.0 L518.9,509.1 L518.1,510.3 L517.3,511.4 L516.4,512.4 L515.6,513.5 L514.6,514.4 L513.7,515.4 L512.8,516.3 L511.8,517.1 L510.8,517.9 L509.8,518.7 L508.8,519.4 L507.8,520.0 L506.8,520.6 L505.8,521.1 L504.8,521.6 L503.8,522.0 L502.8,522.3 L501.8,522.6" stroke-width="1"/>
<line x1="508.0" y1="498.0" x2="535.0" y2="513.7" />
<ellipse cx="553" cy="524" rx="23.16" ry="37.60" transform="rotate(30 553 524)" fill="url(#dots)" stroke-width="1.8"/>
<ellipse cx="553" cy="524" rx="16.20" ry="26.30" transform="rotate(30 553 524)" fill="#fff" stroke-width="1.6"/>
<path d="M559.5,515.8 L558.6,520.6 L561.9,522.5 L558.6,525.5 L559.7,530.0 L555.4,529.6 L553.1,533.5 L550.8,530.4 L546.5,532.2 L547.4,527.4 L544.1,525.5 L547.4,522.5 L546.3,518.0 L550.6,518.4 L552.9,514.5 L555.2,517.6 Z" stroke-width="1"/>
<ellipse cx="549.0" cy="512.4" rx="1.6" ry="2.3" transform="rotate(30 549.0 512.4)" stroke-width="1.2"/>
<ellipse cx="568.0" cy="510.8" rx="1.6" ry="2.3" transform="rotate(30 568.0 510.8)" stroke-width="1.2"/>
<ellipse cx="540.8" cy="539.0" rx="1.6" ry="2.3" transform="rotate(30 540.8 539.0)" stroke-width="1.2"/>
<ellipse cx="560.0" cy="536.7" rx="1.6" ry="2.3" transform="rotate(30 560.0 536.7)" stroke-width="1.2"/>
<line x1="553.0" y1="524.1" x2="581.0" y2="540.2" />
<text class="n" x="78.6" y="382.7" stroke="none" fill="#000" font-family="Liberation Sans, sans-serif" font-size="20" textLength="32.6" lengthAdjust="spacingAndGlyphs">050</text>
<line x1="111.1" y1="367.4" x2="138.3" y2="338.3" />
<text class="n" x="148.2" y="425.8" stroke="none" fill="#000" font-family="Liberation Sans, sans-serif" font-size="20" textLength="32.6" lengthAdjust="spacingAndGlyphs">040</text>
<line x1="169.5" y1="408.3" x2="193.8" y2="380.5" />
<text class="n" x="206.3" y="453" stroke="none" fill="#000" font-family="Liberation Sans, sans-serif" font-size="20" textLength="32.6" lengthAdjust="spacingAndGlyphs">020</text>
<line x1="227.6" y1="436.6" x2="259.8" y2="400.7" />
<text class="n" x="259.5" y="485.8" stroke="none" fill="#000" font-family="Liberation Sans, sans-serif" font-size="20" textLength="32.6" lengthAdjust="spacingAndGlyphs">030</text>
<line x1="280.4" y1="468.9" x2="302.3" y2="430.0" />
<text class="n" x="309.4" y="516.8" stroke="none" fill="#000" font-family="Liberation Sans, sans-serif" font-size="20" textLength="32.6" lengthAdjust="spacingAndGlyphs">020</text>
<line x1="330.0" y1="500.3" x2="352.9" y2="453.7" />
<text class="n" x="360.0" y="542" stroke="none" fill="#000" font-family="Liberation Sans, sans-serif" font-size="20" textLength="32.6" lengthAdjust="spacingAndGlyphs">030</text>
<line x1="379.8" y1="527.3" x2="391.7" y2="482.4" />
<text class="n" x="411.3" y="570.8" stroke="none" fill="#000" font-family="Liberation Sans, sans-serif" font-size="20" textLength="32.6" lengthAdjust="spacingAndGlyphs">020</text>
<line x1="431.1" y1="554.2" x2="447.3" y2="506.0" />
<text class="n" x="455.1" y="598" stroke="none" fill="#000" font-family="Liberation Sans, sans-serif" font-size="20" textLength="32.6" lengthAdjust="spacingAndGlyphs">030</text>
<line x1="472.6" y1="581.2" x2="487.8" y2="533.0" />
<text class="n" x="507.9" y="625.5" stroke="none" fill="#000" font-family="Liberation Sans, sans-serif" font-size="20" textLength="32.6" lengthAdjust="spacingAndGlyphs">020</text>
<line x1="525.0" y1="607.5" x2="541.0" y2="559.0" />
<path d="M356,123 L363.4,127.6" stroke-width="1.1"/>
<ellipse cx="372.2" cy="131.6" rx="8.3" ry="11.2" transform="rotate(25 372.2 131.6)" fill="#fff" stroke-width="2.4"/>
<ellipse cx="372.2" cy="131.6" rx="6.2" ry="9" transform="rotate(25 372.2 131.6)" stroke-width="0.8"/>
<path d="M372.2,131.6 L402.2,148.6 L402.2,109.8 L424,121.4" stroke-width="1.1"/>
<text class="n" x="323.5" y="183.2" stroke="none" fill="#000" font-family="Liberation Sans, sans-serif" font-size="20" textLength="32.3" lengthAdjust="spacingAndGlyphs">090</text>
<line x1="343.1" y1="166.7" x2="363.4" y2="143.1" />
<text x="780.6" y="99" font-family="Liberation Sans, sans-serif" font-size="14" textLength="38.5" lengthAdjust="spacingAndGlyphs">Fig.No.</text>
<text x="780.6" y="116.6" font-family="Liberation Sans, sans-serif" font-size="14" textLength="48.6" lengthAdjust="spacingAndGlyphs">C458XX</text>
<path d="M831.9,119.5 L775.9,119.5 L747.5,151.7" stroke-width="1.1"/>
<line x1="740.0" y1="305.0" x2="792.6" y2="334.7" />
<ellipse cx="797.5" cy="338" rx="6.6" ry="8.6" transform="rotate(25 797.5 338)" fill="#fff" stroke-width="2"/>
<line x1="804.7" y1="342.3" x2="819.6" y2="349.6" />
<text class="n" x="750.2" y="402.2" stroke="none" fill="#000" font-family="Liberation Sans, sans-serif" font-size="20" textLength="29.9" lengthAdjust="spacingAndGlyphs">100</text>
<line x1="768.3" y1="384.6" x2="792.6" y2="346.9" />
<path d="M821.5,352.3 C820.5,352.5 817.1,352.9 815.6,353.5 C814.1,354.2 812.7,355.3 812.5,356.2 C812.2,357.2 812.6,358.5 814.0,359.4 C815.5,360.3 820.2,361.3 821.5,361.7" fill="#fff" stroke-width="1.1"/>
<path d="M819.5,348.0 C820.3,347.4 823.3,343.5 824.4,344.1 C825.5,344.8 826.5,349.0 826.3,352.0 C826.2,354.9 824.6,360.1 823.4,361.7 C822.3,363.3 820.2,361.7 819.5,361.7" stroke-width="3"/>
<path d="M810.7,283.7 L813.7,280.7 L842.0,294.4 L842.0,299.3 L832.2,309.0 L832.2,316.8 L811.7,306.1 L810.7,283.7" fill="#fff" stroke-width="1.2"/>
<path d="M810.7,283.7 L839.0,297.3 L842.0,294.4" stroke-width="1"/>
<path d="M813.7,291.5 L832.2,301.2" stroke-width="1"/>
<ellipse cx="827.3" cy="302.2" rx="3.2" ry="4.4" transform="rotate(25 827.3 302.2)" stroke-width="1.1"/>
<ellipse cx="828.5" cy="303.2" rx="3.2" ry="4.4" transform="rotate(25 828.5 303.2)" stroke-width="0.8"/>
<path d="M840.0,297.3 C842.9,294.9 847.0,294.4 849.8,294.4 C852.5,294.4 855.1,295.2 856.6,297.3 C858.0,299.4 858.4,303.2 858.5,307.1 C858.7,311.0 858.4,316.5 857.6,320.7 C856.7,325.0 854.3,329.2 853.7,332.4 C853.0,335.7 852.2,337.0 853.7,340.2 C855.1,343.5 860.2,348.4 862.4,352.0 C864.7,355.5 866.3,358.5 867.3,361.7 C868.3,365.0 868.8,368.2 868.3,371.5 C867.8,374.7 866.3,378.8 864.4,381.2 C862.4,383.7 859.2,385.4 856.6,386.1 C854.0,386.7 850.9,386.1 848.8,385.1 C846.7,384.1 846.2,382.8 843.9,380.2 C841.6,377.6 837.9,372.9 835.1,369.5 C832.4,366.1 828.8,362.7 827.3,359.8 C825.9,356.8 826.2,356.2 826.3,352.0 C826.5,347.7 827.3,341.5 828.3,334.4 C829.3,327.2 830.2,315.2 832.2,309.0 C834.1,302.8 837.1,299.8 840.0,297.3 Z" fill="#fff" stroke-width="1.2"/>
<path d="M839.0,301.2 C838.5,302.2 837.2,302.5 836.1,307.1 C835.0,311.6 833.3,321.1 832.2,328.5 C831.1,336.0 829.1,346.4 829.3,352.0 C829.4,357.5 830.6,356.5 833.2,361.7 C835.8,366.9 842.9,379.6 844.9,383.2" stroke-width="1"/>
<ellipse cx="859.5" cy="373.8" rx="6" ry="8.6" transform="rotate(30 859.5 373.8)" fill="#fff" stroke-width="1.1"/>
<ellipse cx="857.5" cy="372.2" rx="6" ry="8.6" transform="rotate(30 857.5 372.2)" stroke-width="1"/>
<text class="n" x="823.6" y="442.6" stroke="none" fill="#000" font-family="Liberation Sans, sans-serif" font-size="20" textLength="32.0" lengthAdjust="spacingAndGlyphs">080</text>
<line x1="841.2" y1="426.5" x2="843.9" y2="383.3" />
<ellipse cx="603.2" cy="555.2" rx="28.6" ry="38.2" transform="rotate(26 603.2 555.2)" fill="#fff" stroke-width="1.3"/>
<path d="M595.7,525.8 C594.4,527.5 590.3,532.1 588.1,535.9 C585.9,539.7 583.7,544.1 582.5,548.5 C581.2,552.9 580.7,557.9 580.6,562.4 C580.5,566.8 581.1,571.0 581.8,574.9 C582.6,578.9 584.5,584.4 585.0,586.3" stroke-width="1"/>
<ellipse cx="607.4" cy="556.7" rx="14.5" ry="21.6" transform="rotate(22 607.4 556.7)" stroke-width="1.2"/>
<ellipse cx="603.3" cy="555.5" rx="10.5" ry="18.4" transform="rotate(20 603.3 555.5)" stroke-width="1.1"/>
<path d="M585.6,553.5 C586.1,552.9 587.8,550.2 588.8,549.8 C589.7,549.3 591.1,550.0 591.3,551.0 C591.5,552.1 590.8,554.6 590.0,556.1 C589.3,557.5 587.7,559.5 586.9,559.8 C586.0,560.1 585.2,559.0 585.0,557.9 C584.8,556.9 585.5,554.3 585.6,553.5" stroke-width="1.1"/>
<path d="M603.9,583.8 C604.3,583.1 605.4,580.5 606.4,580.0 C607.3,579.5 609.0,579.9 609.5,580.6 C610.1,581.3 610.2,583.2 609.5,584.4 C608.9,585.5 606.8,587.2 605.8,587.5 C604.7,587.8 603.6,586.9 603.2,586.3 C602.9,585.6 603.8,584.2 603.9,583.8" stroke-width="1.1"/>
<ellipse cx="627.2" cy="534" rx="2.6" ry="3.3" transform="rotate(30 627.2 534)" stroke-width="1.1"/>
<path d="M597.0,525.2 L605.8,533.4 L612.7,534.7 L618.4,525.2" stroke-width="1.1"/>
<path d="M596.3,534.7 C596.8,535.4 598.3,538.2 599.5,539.1 C600.6,539.9 602.2,540.4 603.2,539.7 C604.3,539.0 605.3,535.5 605.8,534.7" stroke-width="1"/>
<path d="M609.5,523.3 L612.1,527.1 L609.5,530.9" stroke-width="1"/>
<line x1="604.0" y1="553.5" x2="640.0" y2="574.3" />
<text class="n" x="599.0" y="458" stroke="none" fill="#000" font-family="Liberation Sans, sans-serif" font-size="20" textLength="32.7" lengthAdjust="spacingAndGlyphs">060</text>
<line x1="612.3" y1="462.8" x2="607.5" y2="519.0" />
<line x1="627.0" y1="534.7" x2="645.0" y2="544.5" />
<circle cx="646.3" cy="545.5" r="3.8" fill="#fff" stroke-width="1.1"/>
<text class="n" x="652.9" y="486.8" stroke="none" fill="#000" font-family="Liberation Sans, sans-serif" font-size="20" textLength="33.2" lengthAdjust="spacingAndGlyphs">070</text>
<line x1="669.0" y1="490.3" x2="649.2" y2="541.9" />
<path d="M652.3,565.1 C650.9,565.3 646.3,565.4 644.0,566.5 C641.7,567.6 639.8,569.8 638.5,572.0 C637.2,574.2 636.5,577.3 636.2,580.0 C636.0,582.7 636.4,585.7 637.0,588.0 C637.6,590.3 637.5,591.7 640.0,594.0 C642.5,596.3 650.2,600.3 652.3,601.6" stroke-width="1.1" stroke-dasharray="8,1.6,1.5,1.6"/>
<path d="M652.3,565.1 L671.2,573.9" stroke-width="1.1" stroke-dasharray="8,1.6,1.5,1.6"/>
<path d="M640.0,594.0 L652.3,601.6" stroke-width="1.1"/>
<ellipse cx="664.2" cy="589.8" rx="10.8" ry="16" transform="rotate(25 664.2 589.8)" fill="#fff" stroke-width="1.1"/>
<clipPath id="nb"><ellipse cx="663.5" cy="589.2" rx="8.6" ry="13.4" transform="rotate(25 663.5 589.2)"/></clipPath>
<path d="M650,567.7 L678,574.7 M650,570.7 L678,577.7 M650,573.7 L678,580.7 M650,576.7 L678,583.7 M650,579.7 L678,586.7 M650,582.7 L678,589.7 M650,585.7 L678,592.7 M650,588.7 L678,595.7 M650,591.7 L678,598.7 M650,594.7 L678,601.7 M650,597.7 L678,604.7 M650,600.7 L678,607.7 M650,603.7 L678,610.7" clip-path="url(#nb)" stroke-width="1.1"/>
<ellipse cx="663.5" cy="589.2" rx="8.8" ry="13.6" transform="rotate(25 663.5 589.2)" stroke-width="1.8"/>
<line x1="675.0" y1="594.6" x2="684.0" y2="599.8" />
<path d="M703.0,587.0 C701.5,587.2 696.8,586.8 694.0,588.0 C691.2,589.2 688.2,591.5 686.0,594.0 C683.8,596.5 682.1,599.7 681.0,603.0 C679.9,606.3 679.5,610.5 679.5,614.0 C679.5,617.5 679.9,621.2 681.0,624.0 C682.1,626.8 684.0,629.2 686.0,631.0 C688.0,632.8 690.7,634.2 693.0,635.0 C695.3,635.8 698.8,635.8 700.0,636.0" stroke-width="1.1" stroke-dasharray="8,1.6,1.5,1.6"/>
<path d="M703.0,587.0 L712.0,592.0" stroke-width="1.1"/>
<ellipse cx="707.3" cy="614.4" rx="15.5" ry="22" transform="rotate(20 707.3 614.4)" fill="#fff" stroke-width="1.1"/>
<ellipse cx="707.5" cy="614.2" rx="13" ry="19" transform="rotate(20 707.5 614.2)" stroke-width="0.9"/>
<ellipse cx="707.6" cy="613.5" rx="7.5" ry="10.5" transform="rotate(20 707.6 613.5)" stroke-width="1"/>
<ellipse cx="707.6" cy="613.5" rx="5" ry="7.2" transform="rotate(20 707.6 613.5)" stroke-width="1"/>
<ellipse cx="716.4" cy="619.9" rx="2.9" ry="3.5" transform="rotate(20 716.4 619.9)" fill="#fff" stroke-width="1"/>
<ellipse cx="709.2" cy="627.0" rx="2.9" ry="3.5" transform="rotate(20 709.2 627.0)" fill="#fff" stroke-width="1"/>
<ellipse cx="701.0" cy="626.5" rx="2.9" ry="3.5" transform="rotate(20 701.0 626.5)" fill="#fff" stroke-width="1"/>
<ellipse cx="696.6" cy="618.7" rx="2.9" ry="3.5" transform="rotate(20 696.6 618.7)" fill="#fff" stroke-width="1"/>
<ellipse cx="698.6" cy="608.1" rx="2.9" ry="3.5" transform="rotate(20 698.6 608.1)" fill="#fff" stroke-width="1"/>
<ellipse cx="705.8" cy="601.0" rx="2.9" ry="3.5" transform="rotate(20 705.8 601.0)" fill="#fff" stroke-width="1"/>
<ellipse cx="714.0" cy="601.5" rx="2.9" ry="3.5" transform="rotate(20 714.0 601.5)" fill="#fff" stroke-width="1"/>
<ellipse cx="718.4" cy="609.3" rx="2.9" ry="3.5" transform="rotate(20 718.4 609.3)" fill="#fff" stroke-width="1"/>
<line x1="708.0" y1="613.6" x2="756.0" y2="641.4" />
<text x="588.2" y="626.2" font-family="Liberation Sans, sans-serif" font-size="14" textLength="38.8" lengthAdjust="spacingAndGlyphs">Fig.No.</text>
<text x="588.2" y="640.5" font-family="Liberation Sans, sans-serif" font-size="14" textLength="48.8" lengthAdjust="spacingAndGlyphs">C457XX</text>
<path d="M585.9,643.4 L643.8,643.4 L652.2,601 M643.8,643.4 L679.7,620.2" stroke-width="1.1"/>
<text x="52" y="639.7" font-family="Liberation Sans, sans-serif" font-size="11.5" textLength="72.4" lengthAdjust="spacingAndGlyphs">K3181-095-10</text></g></svg>
</body></html>
